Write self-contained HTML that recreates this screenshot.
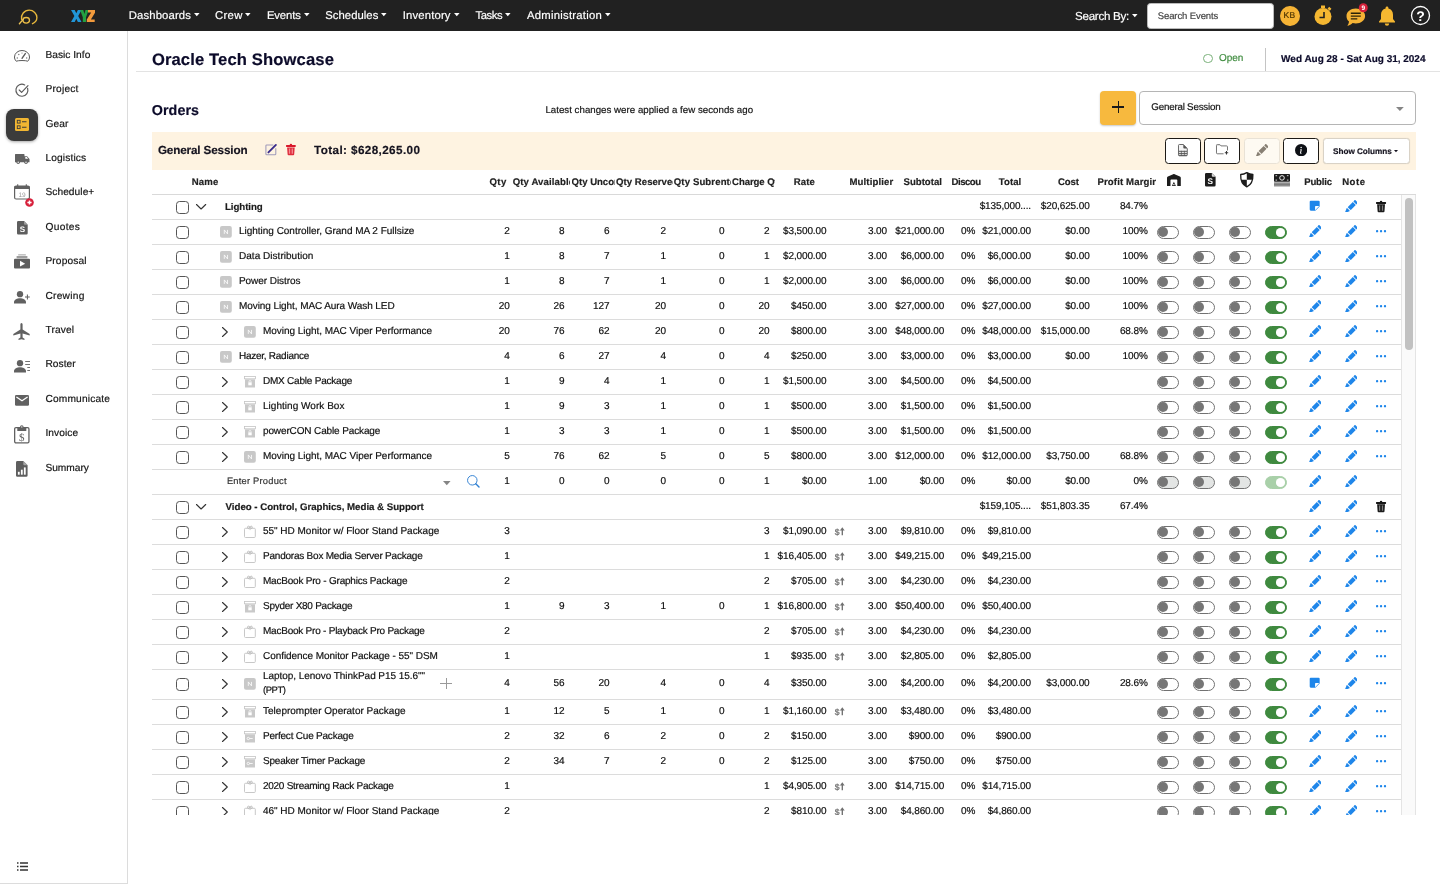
<!DOCTYPE html>
<html><head><meta charset="utf-8"><title>Orders</title>
<style>
*{box-sizing:border-box;margin:0;padding:0}
html,body{width:1440px;height:885px;overflow:hidden;background:#fff}
body{font-family:"Liberation Sans",sans-serif;font-size:10px;color:#111;position:relative}
.abs{position:absolute}
.t{position:absolute;white-space:nowrap;line-height:1;-webkit-text-stroke:.18px currentColor}
.r{position:absolute;white-space:nowrap;line-height:1;text-align:right;-webkit-text-stroke:.18px currentColor}
.b{font-weight:700}
#nav{position:absolute;left:0;top:0;width:1440px;height:31px;background:#212121}
#nav .m{position:absolute;top:9px;color:#fff;font-size:11.4px;line-height:1;white-space:nowrap}
.car{position:absolute;width:0;height:0;border-left:2.800px solid transparent;border-right:2.800px solid transparent;border-top:3px solid #fff}
#side{position:absolute;left:0;top:31px;width:128px;height:853px;background:#fff;border-right:1px solid #dcdcdc;border-bottom:1px solid #dcdcdc}
#side .l{position:absolute;left:45px;font-size:10.4px;color:#111;line-height:1;white-space:nowrap}
.row{position:absolute;left:152px;width:1249px;border-bottom:1px solid #dddddd;background:#fff}
.cb{position:absolute;width:13px;height:13px;border:1px solid #555;border-radius:3.500px;background:#fff}
.n{position:absolute;width:11.800px;height:11.800px;border-radius:2px;background:#c8c8c8;color:#fff;font-size:7px;line-height:12px;text-align:center;font-weight:400}
.tg{position:absolute;width:22.200px;height:13px;border-radius:6.500px;border:1.150px solid #727272;background:#fff}
.tg i{position:absolute;left:-.1px;top:.45px;width:9.800px;height:9.800px;border-radius:50%;background:#767676}
.tg.on{background:#3f8a3f;border-color:#3f8a3f}
.tg.on i{left:9.700px;top:.9px;background:#fff;width:9.900px;height:8.900px}
.tg.dis{background:#e3e5e4}
.tg.on.dis{background:#a9d0a9;border-color:#a9d0a9}
.hd{position:absolute;top:177px;font-weight:700;font-size:9.6px;color:#222;white-space:nowrap;line-height:1;overflow:hidden}
.btn{position:absolute;top:138px;height:26px;border-radius:3.500px;background:#fff;border:1.300px solid #1d1a16}
</style></head><body><div id="root" style="position:absolute;left:0;top:0;width:1440px;height:885px;overflow:hidden;will-change:transform;text-rendering:geometricPrecision">

<div id="nav">
<div class="t" style="left:128.8px;top:11px;font-size:11.3px;color:#fff;letter-spacing:0.13px;">Dashboards</div>
<svg style="position:absolute;left:194.2px;top:13px;overflow:visible" width="5.6" height="3.2" viewBox="0 0 5.6 3.2"><polygon points="0,0 5.600,0 2.800,3.200" fill="#fff"/></svg>
<div class="t" style="left:215.1px;top:11px;font-size:11.3px;color:#fff;letter-spacing:0.28px;">Crew</div>
<svg style="position:absolute;left:245.3px;top:13px;overflow:visible" width="5.6" height="3.2" viewBox="0 0 5.6 3.2"><polygon points="0,0 5.600,0 2.800,3.200" fill="#fff"/></svg>
<div class="t" style="left:266.9px;top:11px;font-size:11.3px;color:#fff;letter-spacing:-0.11px;">Events</div>
<svg style="position:absolute;left:304.2px;top:13px;overflow:visible" width="5.6" height="3.2" viewBox="0 0 5.6 3.2"><polygon points="0,0 5.600,0 2.800,3.200" fill="#fff"/></svg>
<div class="t" style="left:325.3px;top:11px;font-size:11.3px;color:#fff;letter-spacing:0.03px;">Schedules</div>
<svg style="position:absolute;left:381.2px;top:13px;overflow:visible" width="5.6" height="3.2" viewBox="0 0 5.6 3.2"><polygon points="0,0 5.600,0 2.800,3.200" fill="#fff"/></svg>
<div class="t" style="left:402.8px;top:11px;font-size:11.3px;color:#fff;letter-spacing:0.15px;">Inventory</div>
<svg style="position:absolute;left:454.3px;top:13px;overflow:visible" width="5.6" height="3.2" viewBox="0 0 5.6 3.2"><polygon points="0,0 5.600,0 2.800,3.200" fill="#fff"/></svg>
<div class="t" style="left:475.4px;top:11px;font-size:11.3px;color:#fff;letter-spacing:-0.38px;">Tasks</div>
<svg style="position:absolute;left:505.2px;top:13px;overflow:visible" width="5.6" height="3.2" viewBox="0 0 5.6 3.2"><polygon points="0,0 5.600,0 2.800,3.200" fill="#fff"/></svg>
<div class="t" style="left:526.9px;top:11px;font-size:11.3px;color:#fff;letter-spacing:0.26px;">Administration</div>
<svg style="position:absolute;left:605.4px;top:13px;overflow:visible" width="5.6" height="3.2" viewBox="0 0 5.6 3.2"><polygon points="0,0 5.600,0 2.800,3.200" fill="#fff"/></svg>
<div class="t" style="left:1075.1px;top:11px;font-size:11.6px;color:#fff;letter-spacing:-0.3px;">Search By:</div>
<svg style="position:absolute;left:1132px;top:14.2px;overflow:visible" width="5.6" height="3.2" viewBox="0 0 5.6 3.2"><polygon points="0,0 5.600,0 2.800,3.200" fill="#fff"/></svg>
<div class="abs" style="left:1147px;top:3px;width:127px;height:25.500px;background:#fff;border-radius:3.500px;border:1px solid #bbb"></div>
<div class="t" style="left:1157.8px;top:12px;font-size:9.5px;color:#444;letter-spacing:-0.11px;">Search Events</div>
<div class="abs" style="left:1280px;top:6px;width:19.500px;height:20px;border-radius:50%;background:#f5b335"></div>
<div class="t" style="left:1283.4px;top:11px;font-size:8.5px;color:#4a3200;letter-spacing:0.53px;">KB</div>
<svg style="position:absolute;left:1313px;top:4px" width="20" height="22" viewBox="0 0 20 22"><circle cx="10" cy="12.5" r="8.5" fill="#f5b731"/><rect x="8" y="1.5" width="4" height="2.5" fill="#f5b731"/><rect x="15" y="3.5" width="3" height="2.5" transform="rotate(40 16.5 4.7)" fill="#f5b731"/><path d="M11 8v5.5H6.5" stroke="#212121" stroke-width="1.6" fill="none"/></svg>
<svg style="position:absolute;left:1344px;top:2px;overflow:visible" width="26" height="26" viewBox="1344 2 26 26"><path d="M1355.800 8.400c5.200 0 9.300 3.300 9.300 7.500s-4.100 7.500-9.300 7.500c-1.100 0-2.200-.15-3.200-.45-1.300 1.500-3.200 2.500-5.300 2.750 1-1.200 1.600-2.600 1.700-4.100-1.600-1.400-2.500-3.400-2.500-5.700 0-4.200 4.100-7.500 9.300-7.500z" fill="#f5b335"/><path d="M1350.800 13.300h10M1350.800 16.100h10M1350.800 18.900h6.500" stroke="#2a2208" stroke-width="1.400"/><circle cx="1363.300" cy="7.800" r="4.500" fill="#d7203b"/><text x="1363.300" y="10.200" font-size="6.500" fill="#fff" text-anchor="middle" font-family="Liberation Sans" font-weight="700">9</text></svg>
<svg style="position:absolute;left:1377px;top:5px" width="20" height="22" viewBox="0 0 20 22"><path d="M10 1.500c.8 0 1.400.6 1.400 1.400v.5c3 .7 4.600 3.200 4.600 6.300v4.300l2 2.500v1H2v-1l2-2.500V9.700c0-3.100 1.600-5.600 4.600-6.300v-.5c0-.8.600-1.400 1.400-1.400z" fill="#f5b731"/><path d="M7.800 18.500a2.200 2.200 0 0 0 4.400 0z" fill="#f5b731"/></svg>
<svg style="position:absolute;left:1410px;top:5px" width="21" height="21" viewBox="0 0 21 21"><circle cx="10.500" cy="10.500" r="9" fill="none" stroke="#fff" stroke-width="1.300"/><text x="10.500" y="15.500" font-size="14" fill="#fff" text-anchor="middle" font-family="Liberation Sans" font-weight="700">?</text></svg>
<svg style="position:absolute;left:17px;top:8px;overflow:visible" width="22" height="17" viewBox="17 8 22 17"><path d="M21.600 19.400A7.700 7.700 0 0 1 29.200 10.200C33.600 10.200 36.900 13.600 36.900 17.600C36.900 20.300 35 22.600 32.500 23.700" fill="none" stroke="#e7b83c" stroke-width="1.350" stroke-linecap="round"/><ellipse cx="26.200" cy="20.300" rx="3.300" ry="2.800" fill="none" stroke="#e9bb44" stroke-width="1.300"/><path d="M23 19.600L19.400 23.700" stroke="#eec457" stroke-width="1.400" stroke-linecap="round"/></svg>
<svg style="position:absolute;left:70.900px;top:10px" width="24.400" height="12" viewBox="0 0 24.400 12"><polygon points="0,0 3.700,0 5.300,3.300 6.900,0 10.500,0 7.200,6 10.500,12 6.900,12 5.300,8.700 3.700,12 0,12 3.400,6" fill="#2196d8"/><polygon points="9.100,0 12.300,0 13.400,3.900 14.500,0 17.700,0 15,7.200 15,12 11.800,12 11.800,7.200" fill="#22a041"/><polygon points="17,0 24.300,0 24.300,2.400 19.900,9.400 23.700,9.400 23.700,12 15.800,12 15.800,9.600 20.200,2.600 17,2.600" fill="#f29a3c"/></svg>
</div>
<div id="side"></div>
<div class="t" style="left:45.4px;top:51px;font-size:10.2px;color:#141414;letter-spacing:0.02px;">Basic Info</div>
<div class="t" style="left:45.4px;top:85px;font-size:10.2px;color:#141414;letter-spacing:0.22px;">Project</div>
<div class="t" style="left:45.4px;top:120px;font-size:10.2px;color:#141414;letter-spacing:0.08px;">Gear</div>
<div class="t" style="left:45.4px;top:154px;font-size:10.2px;color:#141414;letter-spacing:0.14px;">Logistics</div>
<div class="t" style="left:45.4px;top:188px;font-size:10.2px;color:#141414;letter-spacing:0.06px;">Schedule+</div>
<div class="t" style="left:45.4px;top:223px;font-size:10.2px;color:#141414;letter-spacing:0.34px;">Quotes</div>
<div class="t" style="left:45.4px;top:257px;font-size:10.2px;color:#141414;letter-spacing:0.14px;">Proposal</div>
<div class="t" style="left:45.4px;top:292px;font-size:10.2px;color:#141414;letter-spacing:0.26px;">Crewing</div>
<div class="t" style="left:45.4px;top:326px;font-size:10.2px;color:#141414;letter-spacing:0.14px;">Travel</div>
<div class="t" style="left:45.4px;top:360px;font-size:10.2px;color:#141414;letter-spacing:0.06px;">Roster</div>
<div class="t" style="left:45.4px;top:395px;font-size:10.2px;color:#141414;letter-spacing:0.17px;">Communicate</div>
<div class="t" style="left:45.4px;top:429px;font-size:10.2px;color:#141414;letter-spacing:0.07px;">Invoice</div>
<div class="t" style="left:45.4px;top:464px;font-size:10.2px;color:#141414;letter-spacing:-0.02px;">Summary</div>
<div class="abs" style="left:6px;top:109px;width:32px;height:32px;border-radius:8px;background:#3b3b3b;box-shadow:0 1px 3px rgba(0,0,0,.35)"></div>
<svg style="position:absolute;left:15px;top:118px" width="14" height="13" viewBox="0 0 14 13"><rect x="0" y="0" width="14" height="13" rx="1.500" fill="#f2b632"/><rect x="2.300" y="2.300" width="2.800" height="2.800" fill="none" stroke="#3b3b3b" stroke-width=".9"/><rect x="2.300" y="7.800" width="2.800" height="2.800" fill="none" stroke="#3b3b3b" stroke-width=".9"/><path d="M7 3.700h4.500M7 9.200h4.500" stroke="#3b3b3b" stroke-width="1.100"/></svg>
<svg style="position:absolute;left:14px;top:50px;overflow:visible" width="16" height="12" viewBox="0 0 16 12"><path d="M2.200 11.200C.9 9.900.5 8.300.5 7A7.500 6.500 0 0 1 15.500 7c0 1.300-.4 2.900-1.700 4.200C11.500 10.300 4.500 10.300 2.200 11.200z" fill="none" stroke="#5a5a5a" stroke-width="1"/><path d="M8 8.300 11.300 3.600" stroke="#5a5a5a" stroke-width="1.400" stroke-linecap="round"/><circle cx="3.300" cy="8" r=".7" fill="#777"/><circle cx="4.800" cy="4.500" r=".7" fill="#777"/><circle cx="8" cy="3" r=".6" fill="#777"/><circle cx="12.700" cy="8" r=".7" fill="#777"/></svg>
<svg style="position:absolute;left:15px;top:83px;overflow:visible" width="14" height="14" viewBox="0 0 14 14"><path d="M12.600 5.300A6 6 0 1 1 9.700 1.900" fill="none" stroke="#5a5a5a" stroke-width="1.150" stroke-linecap="round"/><path d="M4.200 7l2.400 2.400L13 2.600" fill="none" stroke="#5a5a5a" stroke-width="1.150" stroke-linecap="round" stroke-linejoin="round"/></svg>
<svg style="position:absolute;left:15px;top:154px;overflow:visible" width="14.5" height="10" viewBox="0 0 14.5 10"><path d="M0 .6a.6.600 0 0 1 .6-.6h8.300a.6.600 0 0 1 .6.600V2.200h2.600l2.400 2.800v3.300H0z" fill="#616161"/><path d="M10.300 3.100h1.500l1.400 1.700h-2.900z" fill="#fff"/><circle cx="3.200" cy="8.300" r="1.750" fill="#616161"/><circle cx="3.200" cy="8.300" r=".7" fill="#fff"/><circle cx="11" cy="8.300" r="1.750" fill="#616161"/><circle cx="11" cy="8.300" r=".7" fill="#fff"/></svg>
<svg style="position:absolute;left:14px;top:184px;overflow:visible" width="16" height="16" viewBox="0 0 16 16"><rect x=".6" y="2" width="14.800" height="13" rx="1.500" fill="#fff" stroke="#616161" stroke-width="1.200"/><rect x=".6" y="2" width="14.800" height="3" fill="#616161"/><path d="M3.700 .3v2M12.300 .3v2" stroke="#616161" stroke-width="1.100"/><text x="8" y="12.500" font-size="6.500" fill="#9a9a9a" text-anchor="middle" font-family="Liberation Sans">19</text></svg>
<svg style="position:absolute;left:24.5px;top:197.5px;overflow:visible" width="9" height="9" viewBox="0 0 9 9"><circle cx="4.500" cy="4.500" r="4.300" fill="#d7203b"/><path d="M4.500 2.400v4.200M2.400 4.500h4.200" stroke="#fff" stroke-width="1.500"/></svg>
<svg style="position:absolute;left:16.5px;top:221px;overflow:visible" width="11" height="13.5" viewBox="0 0 11 13.5"><path d="M1.300 0h5.700l3.700 3.700v8.500a1.300 1.300 0 0 1-1.300 1.300h-8.100A1.300 1.300 0 0 1 0 12.200V1.300A1.300 1.300 0 0 1 1.300 0z" fill="#5e5e5e"/><path d="M7 0v2.700a1 1 0 0 0 1 1h2.700z" fill="#9b9b9b"/><text x="5.300" y="11.300" font-size="8" font-weight="700" fill="#fff" text-anchor="middle" font-family="Liberation Sans">S</text></svg>
<svg style="position:absolute;left:14px;top:254px;overflow:visible" width="16" height="15" viewBox="0 0 16 15"><rect x="4.200" y="0" width="7.600" height="1.600" fill="#c4c4c4"/><rect x="2.600" y="2" width="10.800" height="2.300" fill="#9d9d9d"/><rect x="0" y="4.800" width="16" height="9.800" rx="1" fill="#5e5e5e"/><path d="M6 6.800l5.200 2.900L6 12.600z" fill="#fff"/></svg>
<svg style="position:absolute;left:14px;top:290.5px;overflow:visible" width="16" height="12.5" viewBox="0 0 16 12.5"><circle cx="6" cy="3.200" r="3.150" fill="#616161"/><path d="M0 12.500v-1.300c0-2.700 3.300-3.900 6-3.900s6 1.200 6 3.900v1.300z" fill="#616161"/><path d="M13.400 3.600v4.800M11 6h4.800" stroke="#616161" stroke-width="1.050"/></svg>
<svg style="position:absolute;left:13px;top:322.5px;overflow:visible" width="17" height="17.5" viewBox="0 0 17 17.5"><path d="M8.500 0c.7 0 1.100.8 1.100 1.600v4.900l7.100 4.400v1.700l-7.100-2.200v4l1.900 1.400v1.300l-3-.9-3 .9v-1.300l1.900-1.400v-4L.3 12.600v-1.700l7.100-4.400V1.600C7.400.8 7.800 0 8.500 0z" fill="#616161"/></svg>
<svg style="position:absolute;left:14px;top:359.8px;overflow:visible" width="16" height="12.5" viewBox="0 0 16 12.5"><circle cx="6" cy="3.200" r="3.150" fill="#616161"/><path d="M0 12.500v-1.300c0-2.700 3.300-3.900 6-3.900s6 1.200 6 3.900v1.300z" fill="#616161"/><path d="M11.200 1.500H16M11.200 4.500H16M13.300 7.500H16M13.300 10.500H16" stroke="#616161" stroke-width=".9"/></svg>
<svg style="position:absolute;left:15px;top:394.5px;overflow:visible" width="14" height="10.8" viewBox="0 0 14 10.8"><rect x="0" y="0" width="14" height="10.800" rx="1.300" fill="#616161"/><path d="M1.800 2.300L7 5.800l5.200-3.500" fill="none" stroke="#fff" stroke-width="1.300" stroke-linecap="round" stroke-linejoin="round"/></svg>
<svg style="position:absolute;left:14px;top:425.3px;overflow:visible" width="15.6" height="18.5" viewBox="0 0 15.6 18.5"><rect x=".65" y="2.600" width="14.300" height="15.200" rx="1.300" fill="#fff" stroke="#616161" stroke-width="1.300"/><path d="M3.300 2h2.700a1.800 1.800 0 0 1 3.600 0h2.700v3.900H3.300z" fill="#616161"/><circle cx="7.800" cy="1.900" r=".65" fill="#fff"/><text x="7.800" y="15.900" font-size="11" fill="#616161" text-anchor="middle" font-family="Liberation Serif">$</text></svg>
<svg style="position:absolute;left:16.3px;top:461px;overflow:visible" width="11.6" height="15.8" viewBox="0 0 11.6 15.8"><path d="M1.400 0h5.900l4.300 4.300v10.100a1.400 1.400 0 0 1-1.400 1.400H1.400A1.400 1.400 0 0 1 0 14.400V1.400A1.400 1.400 0 0 1 1.400 0z" fill="#5e5e5e"/><path d="M7.300 0v3.200a1.100 1.100 0 0 0 1.100 1.100h3.200z" fill="#a5a5a5"/><rect x="1.900" y="10.800" width="1.800" height="2.900" fill="#fff"/><rect x="4.900" y="8.700" width="1.800" height="5" fill="#fff"/><rect x="7.900" y="6.400" width="1.800" height="7.300" fill="#fff"/></svg>
<svg style="position:absolute;left:17px;top:862px" width="11" height="9" viewBox="0 0 11 9"><path d="M0 1h1.500M3 1h8M0 4.500h1.500M3 4.500h8M0 8h1.500M3 8h8" stroke="#333" stroke-width="1.400"/></svg>
<div class="t" style="left:151.9px;top:52px;font-size:16.6px;color:#0c0b2a;letter-spacing:0.13px;font-weight:700;">Oracle Tech Showcase</div>
<div class="abs" style="left:136px;top:71px;width:1304px;height:1px;background:#e3e3e3"></div>
<div class="abs" style="left:1203px;top:53.500px;width:9.500px;height:9.500px;border-radius:50%;border:.9px solid #79b079"></div>
<div class="t" style="left:1218.9px;top:54px;font-size:10px;color:#3f8c3f;letter-spacing:-0.04px;">Open</div>
<div class="abs" style="left:1264.500px;top:48px;width:1px;height:23px;background:#c4c4c4"></div>
<div class="t" style="left:1281.1px;top:55px;font-size:10px;color:#0c0b2a;letter-spacing:-0.01px;font-weight:700;">Wed Aug 28 - Sat Aug 31, 2024</div>
<div class="t" style="left:151.7px;top:104px;font-size:14.3px;color:#0c0b2a;letter-spacing:0.1px;font-weight:700;">Orders</div>
<div class="t" style="left:545.4px;top:106px;font-size:9.7px;color:#141414;letter-spacing:0.02px;">Latest changes were applied a few seconds ago</div>
<div class="abs" style="left:1100px;top:91px;width:36px;height:34px;border-radius:4px;background:#f7b93e;box-shadow:0 1px 2px rgba(0,0,0,.22)"></div>
<div class="abs" style="left:1112.400px;top:106.200px;width:11.800px;height:1.500px;background:#1a1a1a"></div><div class="abs" style="left:1117.550px;top:101px;width:1.500px;height:11.900px;background:#1a1a1a"></div>
<div class="abs" style="left:1139px;top:91.400px;width:277px;height:33.300px;border-radius:4px;background:#fff;border:1px solid #b5b5b5"></div>
<div class="t" style="left:1151.3px;top:103px;font-size:9.8px;color:#141414;letter-spacing:-0.22px;">General Session</div>
<svg style="position:absolute;left:1396.3px;top:107.3px;overflow:visible" width="7.8" height="3.9" viewBox="0 0 7.8 3.9"><polygon points="0,0 7.800,0 3.900,3.900" fill="#858585"/></svg>
<div class="abs" style="left:152px;top:132px;width:1264px;height:38px;background:#fef3e1"></div>
<div class="t" style="left:157.9px;top:145px;font-size:11.7px;color:#15131f;letter-spacing:-0.14px;font-weight:700;">General Session</div>
<svg style="position:absolute;left:265px;top:144px;overflow:visible" width="12" height="12" viewBox="0 0 12 12"><path d="M8.300 .9H1.700a.8.800 0 0 0-.8.800v8.300a.8.800 0 0 0 .8.800h8.300a.8.800 0 0 0 .8-.8V4.200" fill="none" stroke="#9f9aba" stroke-width="1.050"/><path d="M3.400 8.400L10.900 .9" stroke="#3b2d8c" stroke-width="1.900" stroke-linecap="round"/></svg>
<svg style="position:absolute;left:286px;top:144px;overflow:visible" width="9.8" height="11.3" viewBox="0 0 9.8 11.3"><path d="M3.700 .9a1.200 1.200 0 0 1 2.400 0z" fill="#d9182b"/><rect x="0" y=".9" width="9.800" height="2" rx=".6" fill="#d9182b"/><path d="M1.100 3.400h7.600l-.5 6.900a1 1 0 0 1-1 1H2.600a1 1 0 0 1-1-1z" fill="#de2c3c"/><path d="M3.500 4.600v5.200M6.300 4.600v5.200" stroke="#f58a90" stroke-width="1.300"/></svg>
<div class="t" style="left:314.1px;top:145px;font-size:11.7px;color:#15131f;letter-spacing:0.39px;font-weight:700;">Total: $628,265.00</div>
<div class="btn" style="left:1165px;width:36px"></div>
<div class="btn" style="left:1204px;width:36px"></div>
<div class="btn" style="left:1244px;width:35.5px;border-color:#e9e2d6;background:#fefaf2"></div>
<div class="btn" style="left:1283px;width:36px"></div>
<div class="btn" style="left:1322.500px;width:87.200px;border-color:#d9d2c6;box-shadow:0 0 1px rgba(0,0,0,.15)"></div>
<div class="t" style="left:1333.1px;top:148px;font-size:8.2px;color:#15131f;letter-spacing:-0.04px;font-weight:700;">Show Columns</div>
<svg style="position:absolute;left:1393.9px;top:150px;overflow:visible" width="4" height="2.2" viewBox="0 0 4 2.2"><polygon points="0,0 4,0 2,2.200" fill="#15131f"/></svg>
<svg style="position:absolute;left:1178px;top:143.8px;overflow:visible" width="9.8" height="12.3" viewBox="0 0 9.8 12.3"><path d="M1.400 .5h3.900l4 4v6.400a.9.900 0 0 1-.9.900h-7a.9.900 0 0 1-.9-.9v-9.500a.9.900 0 0 1 .9-.9z" fill="#f4f4f4" stroke="#5a5a5a" stroke-width=".9"/><path d="M5.300 .5v3.100a.9.900 0 0 0 .9.900h3.100z" fill="#555"/><path d="M.8 7.300h8.200M.8 9.400h8.200M.8 11.300h8.200" stroke="#555" stroke-width="1"/><path d="M3.400 6.800v4.900M6.400 6.800v4.900" stroke="#555" stroke-width=".7"/></svg>
<svg style="position:absolute;left:1216px;top:144.3px;overflow:visible" width="12.2" height="10.5" viewBox="0 0 12.2 10.5"><path d="M7.600 9.800H1.400a.9.900 0 0 1-.9-.9V1.400a.9.900 0 0 1 .9-.9h2.400l1.200 1.400h5.600a.9.900 0 0 1 .9.900v3.700" fill="none" stroke="#666" stroke-width=".9"/><path d="M.8 .9h3l1 1.100" fill="none" stroke="#999" stroke-width=".8"/><path d="M10.500 7.100v3.400M8.800 8.800h3.400" stroke="#333" stroke-width="1.050"/></svg>
<svg style="position:absolute;left:1255.5px;top:143.8px" width="12.5" height="12.5" viewBox="0 0 16 16" fill="#877f73" ><path d="M12.854.146a.5.5 0 0 0-.707 0L10.5 1.793 14.207 5.5l1.647-1.646a.5.5 0 0 0 0-.708l-3-3zm.646 6.061L9.793 2.5 3.293 9H3.5a.5.5 0 0 1 .5.5v.5h.5a.5.5 0 0 1 .5.5v.5h.5a.5.5 0 0 1 .5.5v.5h.5a.5.5 0 0 1 .5.5v.207l6.5-6.5zm-7.468 7.468A.5.5 0 0 1 6 13.5V13h-.5a.5.5 0 0 1-.5-.5V12h-.5a.5.5 0 0 1-.5-.5V11h-.5a.5.5 0 0 1-.5-.5V10h-.5a.499.499 0 0 1-.175-.032l-.179.178a.5.5 0 0 0-.11.168l-2 5a.5.5 0 0 0 .65.65l5-2a.5.5 0 0 0 .168-.11l.178-.178z"/></svg>
<svg style="position:absolute;left:1295px;top:143.8px" width="12.3" height="12.3" viewBox="0 0 16 16" fill="#0e1116" ><path d="M8 16A8 8 0 1 0 8 0a8 8 0 0 0 0 16zm.93-9.412-1 4.705c-.07.34.029.533.304.533.194 0 .487-.07.686-.246l-.088.416c-.287.346-.92.598-1.465.598-.703 0-1.002-.422-.808-1.319l.738-3.468c.064-.293.006-.399-.287-.47l-.451-.081.082-.381 2.29-.287zM8 5.5a1 1 0 1 1 0-2 1 1 0 0 1 0 2z"/></svg>
<div class="t" style="left:191.8px;top:178px;font-size:9.6px;font-weight:700;color:#222;letter-spacing:0.11px;">Name</div>
<div class="t" style="left:489.4px;top:178px;font-size:9.6px;font-weight:700;color:#222;letter-spacing:0.5px;">Qty</div>
<div class="t" style="left:512.7px;top:178px;font-size:9.6px;font-weight:700;color:#222;letter-spacing:0.11px;width:57.3px;overflow:hidden;">Qty Available</div>
<div class="t" style="left:571.6px;top:178px;font-size:9.6px;font-weight:700;color:#222;letter-spacing:-0.03px;width:43px;overflow:hidden;">Qty Uncommitted</div>
<div class="t" style="left:616.1px;top:178px;font-size:9.6px;font-weight:700;color:#222;letter-spacing:0.02px;width:57.1px;overflow:hidden;">Qty Reserved</div>
<div class="t" style="left:673.8px;top:178px;font-size:9.6px;font-weight:700;color:#222;letter-spacing:0.11px;width:57.2px;overflow:hidden;">Qty Subrented</div>
<div class="t" style="left:732.1px;top:178px;font-size:9.6px;font-weight:700;color:#222;letter-spacing:-0.09px;width:43.1px;overflow:hidden;">Charge Qty</div>
<div class="t" style="left:793.8px;top:178px;font-size:9.6px;font-weight:700;color:#222;letter-spacing:0.07px;">Rate</div>
<div class="t" style="left:849.4px;top:178px;font-size:9.6px;font-weight:700;color:#222;letter-spacing:0.14px;">Multiplier</div>
<div class="t" style="left:903.6px;top:178px;font-size:9.6px;font-weight:700;color:#222;letter-spacing:-0.01px;">Subtotal</div>
<div class="t" style="left:951.6px;top:178px;font-size:9.6px;font-weight:700;color:#222;letter-spacing:-0.5px;width:29.2px;overflow:hidden;">Discount</div>
<div class="t" style="left:998.8px;top:178px;font-size:9.6px;font-weight:700;color:#222;letter-spacing:0.06px;">Total</div>
<div class="t" style="left:1058px;top:178px;font-size:9.6px;font-weight:700;color:#222;letter-spacing:-0.13px;">Cost</div>
<div class="t" style="left:1097.4px;top:178px;font-size:9.6px;font-weight:700;color:#222;letter-spacing:0.14px;width:58.4px;overflow:hidden;">Profit Margin</div>
<div class="t" style="left:1304.2px;top:178px;font-size:9.6px;font-weight:700;color:#222;letter-spacing:-0.17px;">Public</div>
<div class="t" style="left:1342.2px;top:178px;font-size:9.6px;font-weight:700;color:#222;letter-spacing:0.49px;">Note</div>
<svg style="position:absolute;left:1167.2px;top:173.8px;overflow:visible" width="13.8" height="12" viewBox="0 0 13.8 12"><path d="M0 12V3.800C0 3.100.4 2.700.9 2.400L6.200.2c.5-.2.900-.2 1.400 0l5.300 2.200c.5.300.9.700.9 1.400V12h-3.500V6.200a.7.700 0 0 0-.7-.7H4.200a.7.700 0 0 0-.7.700V12z" fill="#1c1c1c"/><path d="M4.900 12l2-4.300 2 4.300z" fill="#1c1c1c"/><rect x="6.300" y="10" width="1.200" height="1.200" fill="#fff"/></svg>
<svg style="position:absolute;left:1204.8px;top:173px;overflow:visible" width="10.6" height="13.6" viewBox="0 0 10.6 13.6"><path d="M1.300 0h5.500l3.800 3.800v8.500a1.300 1.300 0 0 1-1.300 1.300h-8A1.300 1.300 0 0 1 0 12.300V1.300A1.300 1.300 0 0 1 1.300 0z" fill="#1c1c1c"/><path d="M6.800 .3v2.500a1 1 0 0 0 1 1h2.500z" fill="#fff" opacity=".85"/><text x="5.200" y="11.500" font-size="8.200" font-weight="700" fill="#fff" text-anchor="middle" font-family="Liberation Sans">S</text></svg>
<svg style="position:absolute;left:1239.5px;top:172px;overflow:visible" width="13.6" height="15.6" viewBox="0 0 13.6 15.6"><path d="M6.800 .6C8.600 1.700 10.800 2.400 12.900 2.500c.2 4.700-1 10-6.100 12.400C1.700 12.500.5 7.200.7 2.500 2.800 2.400 5 1.700 6.800.6z" fill="#fff" stroke="#1c1c1c" stroke-width="1.300" stroke-linejoin="round"/><path d="M6.800 .6C8.600 1.700 10.800 2.400 12.900 2.500c.1 1.700 0 3.500-.4 5.200H6.800z" fill="#1c1c1c"/><path d="M6.800 7.700v7.200C3.700 13.400 2 10.800 1.200 7.700z" fill="#1c1c1c"/></svg>
<svg style="position:absolute;left:1274px;top:173.8px;overflow:visible" width="16" height="12.6" viewBox="0 0 16 12.6"><rect x="0" y="0" width="16" height="7.800" rx=".8" fill="#1c1c1c"/><circle cx="8" cy="3.900" r="2.300" fill="none" stroke="#fff" stroke-width=".9"/><rect x="1.500" y="1.200" width="1.600" height="1" fill="#fff" opacity=".8"/><rect x="12.900" y="1.200" width="1.600" height="1" fill="#fff" opacity=".8"/><rect x="1.500" y="5.600" width="1.600" height="1" fill="#fff" opacity=".8"/><rect x="12.900" y="5.600" width="1.600" height="1" fill="#fff" opacity=".8"/><rect x="0" y="8.300" width="16" height="4.200" fill="#8f8f8f"/><rect x="0" y="10" width="16" height=".7" fill="#777"/></svg>
<div class="abs" style="left:152px;top:194px;width:1264px;height:1px;background:#d9d9d9"></div>
<div class="abs" style="left:0;top:195px;width:1440px;height:619.500px;overflow:hidden">
<div class="abs" style="left:1401px;top:-1px;width:15px;height:621px;background:#fafafa;border-left:1px solid #e4e4e4;border-right:1px solid #e4e4e4"></div>
<div class="abs" style="left:1405px;top:3px;width:8px;height:152px;border-radius:4px;background:#c1c1c1"></div>
<div class="abs" style="left:152px;top:24px;width:1249px;height:1px;background:#dcdcdc"></div><div class="cb" style="left:176px;top:6px"></div><svg style="position:absolute;left:196px;top:9.3px;overflow:visible" width="10.2" height="5.6" viewBox="0 0 10.2 5.6"><path d="M.5 .5l4.600 4.500L9.700 .5" fill="none" stroke="#333" stroke-width="1.100" stroke-linecap="round" stroke-linejoin="round"/></svg><div class="t" style="left:225px;top:8px;font-size:9.7px;color:#1c1c1c;letter-spacing:-0.07px;font-weight:700;">Lighting</div><div class="r" style="right:409.05px;top:7px;font-size:10px;color:#0e0e0e;letter-spacing:-.13px">$135,000....</div><div class="r" style="right:350.45px;top:7px;font-size:10px;color:#0e0e0e;letter-spacing:-.13px">$20,625.00</div><div class="r" style="right:292.35px;top:7px;font-size:10px;color:#0e0e0e;letter-spacing:-.13px">84.7%</div><svg style="position:absolute;left:1308.9px;top:5.2px" width="11.4" height="11.4" viewBox="0 0 16 16" fill="#1e86ea" ><path d="M2.5 1A1.5 1.5 0 0 0 1 2.5v11A1.5 1.5 0 0 0 2.5 15h6.086a1.5 1.5 0 0 0 1.06-.44l4.915-4.914A1.5 1.5 0 0 0 15 8.586V2.5A1.5 1.5 0 0 0 13.5 1h-11zm6 8.5a1 1 0 0 1 1-1h4.396a.25.25 0 0 1 .177.427l-5.146 5.146a.25.25 0 0 1-.427-.177V9.5z"/></svg><svg style="position:absolute;left:1344.5px;top:4.5px" width="12.8" height="12.8" viewBox="0 0 16 16" fill="#1e86ea" ><path d="M12.854.146a.5.5 0 0 0-.707 0L10.5 1.793 14.207 5.5l1.647-1.646a.5.5 0 0 0 0-.708l-3-3zm.646 6.061L9.793 2.5 3.293 9H3.5a.5.5 0 0 1 .5.5v.5h.5a.5.5 0 0 1 .5.5v.5h.5a.5.5 0 0 1 .5.5v.5h.5a.5.5 0 0 1 .5.5v.207l6.5-6.5zm-7.468 7.468A.5.5 0 0 1 6 13.5V13h-.5a.5.5 0 0 1-.5-.5V12h-.5a.5.5 0 0 1-.5-.5V11h-.5a.5.5 0 0 1-.5-.5V10h-.5a.499.499 0 0 1-.175-.032l-.179.178a.5.5 0 0 0-.11.168l-2 5a.5.5 0 0 0 .65.65l5-2a.5.5 0 0 0 .168-.11l.178-.178z"/></svg><svg style="position:absolute;left:1376px;top:5.9px;overflow:visible" width="10.1" height="11.2" viewBox="0 0 10.1 11.2"><path d="M3.800 .9a1.250 1.250 0 0 1 2.500 0z" fill="#161616"/><rect x="0" y=".9" width="10.100" height="2" rx=".6" fill="#161616"/><path d="M1.100 3.300h7.900l-.5 6.900a1 1 0 0 1-1 1H2.600a1 1 0 0 1-1-1z" fill="#1c1c1c"/><path d="M3.600 4.500v5.300M6.500 4.500v5.300" stroke="#7d7d7d" stroke-width="1.200"/></svg>
<div class="abs" style="left:152px;top:49px;width:1249px;height:1px;background:#dcdcdc"></div><div class="cb" style="left:176px;top:31px"></div><svg style="position:absolute;left:220.3px;top:31.2px" width="11.800" height="11.800" viewBox="0 0 11.800 11.800"><rect width="11.800" height="11.800" rx="2" fill="#c8c8c8"/><path d="M4.300 7.900V3.900L7.500 7.900V3.900" fill="none" stroke="#fff" stroke-width=".85" stroke-linejoin="miter" opacity=".92"/></svg><div class="t" style="left:239px;top:32px;font-size:10px;color:#0e0e0e;letter-spacing:-0.02px;">Lighting Controller, Grand MA 2 Fullsize</div><div class="r" style="right:930.35px;top:32px;font-size:10px;color:#0e0e0e;letter-spacing:-.13px">2</div><div class="r" style="right:875.65px;top:32px;font-size:10px;color:#0e0e0e;letter-spacing:-.13px">8</div><div class="r" style="right:830.65px;top:32px;font-size:10px;color:#0e0e0e;letter-spacing:-.13px">6</div><div class="r" style="right:774.05px;top:32px;font-size:10px;color:#0e0e0e;letter-spacing:-.13px">2</div><div class="r" style="right:715.65px;top:32px;font-size:10px;color:#0e0e0e;letter-spacing:-.13px">0</div><div class="r" style="right:670.65px;top:32px;font-size:10px;color:#0e0e0e;letter-spacing:-.13px">2</div><div class="r" style="right:613.65px;top:32px;font-size:10px;color:#0e0e0e;letter-spacing:-.13px">$3,500.00</div><div class="r" style="right:553.05px;top:32px;font-size:10px;color:#0e0e0e;letter-spacing:-.13px">3.00</div><div class="r" style="right:495.95px;top:32px;font-size:10px;color:#0e0e0e;letter-spacing:-.13px">$21,000.00</div><div class="r" style="right:464.75px;top:32px;font-size:10px;color:#0e0e0e;letter-spacing:-.13px">0%</div><div class="r" style="right:409.05px;top:32px;font-size:10px;color:#0e0e0e;letter-spacing:-.13px">$21,000.00</div><div class="r" style="right:350.45px;top:32px;font-size:10px;color:#0e0e0e;letter-spacing:-.13px">$0.00</div><div class="r" style="right:292.35px;top:32px;font-size:10px;color:#0e0e0e;letter-spacing:-.13px">100%</div><div class="tg" style="left:1156.8px;top:30.8px"><i></i></div><div class="tg" style="left:1192.9px;top:30.8px"><i></i></div><div class="tg" style="left:1228.9px;top:30.8px"><i></i></div><div class="tg on" style="left:1264.9px;top:30.8px"><i></i></div><svg style="position:absolute;left:1308.5px;top:29.5px" width="12.8" height="12.8" viewBox="0 0 16 16" fill="#1e86ea" ><path d="M12.854.146a.5.5 0 0 0-.707 0L10.5 1.793 14.207 5.5l1.647-1.646a.5.5 0 0 0 0-.708l-3-3zm.646 6.061L9.793 2.5 3.293 9H3.5a.5.5 0 0 1 .5.5v.5h.5a.5.5 0 0 1 .5.5v.5h.5a.5.5 0 0 1 .5.5v.5h.5a.5.5 0 0 1 .5.5v.207l6.5-6.5zm-7.468 7.468A.5.5 0 0 1 6 13.5V13h-.5a.5.5 0 0 1-.5-.5V12h-.5a.5.5 0 0 1-.5-.5V11h-.5a.5.5 0 0 1-.5-.5V10h-.5a.499.499 0 0 1-.175-.032l-.179.178a.5.5 0 0 0-.11.168l-2 5a.5.5 0 0 0 .65.65l5-2a.5.5 0 0 0 .168-.11l.178-.178z"/></svg><svg style="position:absolute;left:1344.5px;top:29.5px" width="12.8" height="12.8" viewBox="0 0 16 16" fill="#1e86ea" ><path d="M12.854.146a.5.5 0 0 0-.707 0L10.5 1.793 14.207 5.5l1.647-1.646a.5.5 0 0 0 0-.708l-3-3zm.646 6.061L9.793 2.5 3.293 9H3.5a.5.5 0 0 1 .5.5v.5h.5a.5.5 0 0 1 .5.5v.5h.5a.5.5 0 0 1 .5.5v.5h.5a.5.5 0 0 1 .5.5v.207l6.5-6.5zm-7.468 7.468A.5.5 0 0 1 6 13.5V13h-.5a.5.5 0 0 1-.5-.5V12h-.5a.5.5 0 0 1-.5-.5V11h-.5a.5.5 0 0 1-.5-.5V10h-.5a.499.499 0 0 1-.175-.032l-.179.178a.5.5 0 0 0-.11.168l-2 5a.5.5 0 0 0 .65.65l5-2a.5.5 0 0 0 .168-.11l.178-.178z"/></svg><svg style="position:absolute;left:1376px;top:34.9px;overflow:visible" width="10.1" height="2.3" viewBox="0 0 10.1 2.3"><rect x="0" y="0" width="2.200" height="2.300" rx=".9" fill="#1e86ea"/><rect x="3.950" y="0" width="2.200" height="2.300" rx=".9" fill="#1e86ea"/><rect x="7.900" y="0" width="2.200" height="2.300" rx=".9" fill="#1e86ea"/></svg>
<div class="abs" style="left:152px;top:74px;width:1249px;height:1px;background:#dcdcdc"></div><div class="cb" style="left:176px;top:56px"></div><svg style="position:absolute;left:220.3px;top:56.2px" width="11.800" height="11.800" viewBox="0 0 11.800 11.800"><rect width="11.800" height="11.800" rx="2" fill="#c8c8c8"/><path d="M4.300 7.900V3.900L7.500 7.900V3.900" fill="none" stroke="#fff" stroke-width=".85" stroke-linejoin="miter" opacity=".92"/></svg><div class="t" style="left:239px;top:57px;font-size:10px;color:#0e0e0e;letter-spacing:0.03px;">Data Distribution</div><div class="r" style="right:930.35px;top:57px;font-size:10px;color:#0e0e0e;letter-spacing:-.13px">1</div><div class="r" style="right:875.65px;top:57px;font-size:10px;color:#0e0e0e;letter-spacing:-.13px">8</div><div class="r" style="right:830.65px;top:57px;font-size:10px;color:#0e0e0e;letter-spacing:-.13px">7</div><div class="r" style="right:774.05px;top:57px;font-size:10px;color:#0e0e0e;letter-spacing:-.13px">1</div><div class="r" style="right:715.65px;top:57px;font-size:10px;color:#0e0e0e;letter-spacing:-.13px">0</div><div class="r" style="right:670.65px;top:57px;font-size:10px;color:#0e0e0e;letter-spacing:-.13px">1</div><div class="r" style="right:613.65px;top:57px;font-size:10px;color:#0e0e0e;letter-spacing:-.13px">$2,000.00</div><div class="r" style="right:553.05px;top:57px;font-size:10px;color:#0e0e0e;letter-spacing:-.13px">3.00</div><div class="r" style="right:495.95px;top:57px;font-size:10px;color:#0e0e0e;letter-spacing:-.13px">$6,000.00</div><div class="r" style="right:464.75px;top:57px;font-size:10px;color:#0e0e0e;letter-spacing:-.13px">0%</div><div class="r" style="right:409.05px;top:57px;font-size:10px;color:#0e0e0e;letter-spacing:-.13px">$6,000.00</div><div class="r" style="right:350.45px;top:57px;font-size:10px;color:#0e0e0e;letter-spacing:-.13px">$0.00</div><div class="r" style="right:292.35px;top:57px;font-size:10px;color:#0e0e0e;letter-spacing:-.13px">100%</div><div class="tg" style="left:1156.8px;top:55.8px"><i></i></div><div class="tg" style="left:1192.9px;top:55.8px"><i></i></div><div class="tg" style="left:1228.9px;top:55.8px"><i></i></div><div class="tg on" style="left:1264.9px;top:55.8px"><i></i></div><svg style="position:absolute;left:1308.5px;top:54.5px" width="12.8" height="12.8" viewBox="0 0 16 16" fill="#1e86ea" ><path d="M12.854.146a.5.5 0 0 0-.707 0L10.5 1.793 14.207 5.5l1.647-1.646a.5.5 0 0 0 0-.708l-3-3zm.646 6.061L9.793 2.5 3.293 9H3.5a.5.5 0 0 1 .5.5v.5h.5a.5.5 0 0 1 .5.5v.5h.5a.5.5 0 0 1 .5.5v.5h.5a.5.5 0 0 1 .5.5v.207l6.5-6.5zm-7.468 7.468A.5.5 0 0 1 6 13.5V13h-.5a.5.5 0 0 1-.5-.5V12h-.5a.5.5 0 0 1-.5-.5V11h-.5a.5.5 0 0 1-.5-.5V10h-.5a.499.499 0 0 1-.175-.032l-.179.178a.5.5 0 0 0-.11.168l-2 5a.5.5 0 0 0 .65.65l5-2a.5.5 0 0 0 .168-.11l.178-.178z"/></svg><svg style="position:absolute;left:1344.5px;top:54.5px" width="12.8" height="12.8" viewBox="0 0 16 16" fill="#1e86ea" ><path d="M12.854.146a.5.5 0 0 0-.707 0L10.5 1.793 14.207 5.5l1.647-1.646a.5.5 0 0 0 0-.708l-3-3zm.646 6.061L9.793 2.5 3.293 9H3.5a.5.5 0 0 1 .5.5v.5h.5a.5.5 0 0 1 .5.5v.5h.5a.5.5 0 0 1 .5.5v.5h.5a.5.5 0 0 1 .5.5v.207l6.5-6.5zm-7.468 7.468A.5.5 0 0 1 6 13.5V13h-.5a.5.5 0 0 1-.5-.5V12h-.5a.5.5 0 0 1-.5-.5V11h-.5a.5.5 0 0 1-.5-.5V10h-.5a.499.499 0 0 1-.175-.032l-.179.178a.5.5 0 0 0-.11.168l-2 5a.5.5 0 0 0 .65.65l5-2a.5.5 0 0 0 .168-.11l.178-.178z"/></svg><svg style="position:absolute;left:1376px;top:59.9px;overflow:visible" width="10.1" height="2.3" viewBox="0 0 10.1 2.3"><rect x="0" y="0" width="2.200" height="2.300" rx=".9" fill="#1e86ea"/><rect x="3.950" y="0" width="2.200" height="2.300" rx=".9" fill="#1e86ea"/><rect x="7.900" y="0" width="2.200" height="2.300" rx=".9" fill="#1e86ea"/></svg>
<div class="abs" style="left:152px;top:99px;width:1249px;height:1px;background:#dcdcdc"></div><div class="cb" style="left:176px;top:81px"></div><svg style="position:absolute;left:220.3px;top:81.2px" width="11.800" height="11.800" viewBox="0 0 11.800 11.800"><rect width="11.800" height="11.800" rx="2" fill="#c8c8c8"/><path d="M4.300 7.900V3.900L7.500 7.900V3.900" fill="none" stroke="#fff" stroke-width=".85" stroke-linejoin="miter" opacity=".92"/></svg><div class="t" style="left:239px;top:82px;font-size:10px;color:#0e0e0e;letter-spacing:-0.06px;">Power Distros</div><div class="r" style="right:930.35px;top:82px;font-size:10px;color:#0e0e0e;letter-spacing:-.13px">1</div><div class="r" style="right:875.65px;top:82px;font-size:10px;color:#0e0e0e;letter-spacing:-.13px">8</div><div class="r" style="right:830.65px;top:82px;font-size:10px;color:#0e0e0e;letter-spacing:-.13px">7</div><div class="r" style="right:774.05px;top:82px;font-size:10px;color:#0e0e0e;letter-spacing:-.13px">1</div><div class="r" style="right:715.65px;top:82px;font-size:10px;color:#0e0e0e;letter-spacing:-.13px">0</div><div class="r" style="right:670.65px;top:82px;font-size:10px;color:#0e0e0e;letter-spacing:-.13px">1</div><div class="r" style="right:613.65px;top:82px;font-size:10px;color:#0e0e0e;letter-spacing:-.13px">$2,000.00</div><div class="r" style="right:553.05px;top:82px;font-size:10px;color:#0e0e0e;letter-spacing:-.13px">3.00</div><div class="r" style="right:495.95px;top:82px;font-size:10px;color:#0e0e0e;letter-spacing:-.13px">$6,000.00</div><div class="r" style="right:464.75px;top:82px;font-size:10px;color:#0e0e0e;letter-spacing:-.13px">0%</div><div class="r" style="right:409.05px;top:82px;font-size:10px;color:#0e0e0e;letter-spacing:-.13px">$6,000.00</div><div class="r" style="right:350.45px;top:82px;font-size:10px;color:#0e0e0e;letter-spacing:-.13px">$0.00</div><div class="r" style="right:292.35px;top:82px;font-size:10px;color:#0e0e0e;letter-spacing:-.13px">100%</div><div class="tg" style="left:1156.8px;top:80.8px"><i></i></div><div class="tg" style="left:1192.9px;top:80.8px"><i></i></div><div class="tg" style="left:1228.9px;top:80.8px"><i></i></div><div class="tg on" style="left:1264.9px;top:80.8px"><i></i></div><svg style="position:absolute;left:1308.5px;top:79.5px" width="12.8" height="12.8" viewBox="0 0 16 16" fill="#1e86ea" ><path d="M12.854.146a.5.5 0 0 0-.707 0L10.5 1.793 14.207 5.5l1.647-1.646a.5.5 0 0 0 0-.708l-3-3zm.646 6.061L9.793 2.5 3.293 9H3.5a.5.5 0 0 1 .5.5v.5h.5a.5.5 0 0 1 .5.5v.5h.5a.5.5 0 0 1 .5.5v.5h.5a.5.5 0 0 1 .5.5v.207l6.5-6.5zm-7.468 7.468A.5.5 0 0 1 6 13.5V13h-.5a.5.5 0 0 1-.5-.5V12h-.5a.5.5 0 0 1-.5-.5V11h-.5a.5.5 0 0 1-.5-.5V10h-.5a.499.499 0 0 1-.175-.032l-.179.178a.5.5 0 0 0-.11.168l-2 5a.5.5 0 0 0 .65.65l5-2a.5.5 0 0 0 .168-.11l.178-.178z"/></svg><svg style="position:absolute;left:1344.5px;top:79.5px" width="12.8" height="12.8" viewBox="0 0 16 16" fill="#1e86ea" ><path d="M12.854.146a.5.5 0 0 0-.707 0L10.5 1.793 14.207 5.5l1.647-1.646a.5.5 0 0 0 0-.708l-3-3zm.646 6.061L9.793 2.5 3.293 9H3.5a.5.5 0 0 1 .5.5v.5h.5a.5.5 0 0 1 .5.5v.5h.5a.5.5 0 0 1 .5.5v.5h.5a.5.5 0 0 1 .5.5v.207l6.5-6.5zm-7.468 7.468A.5.5 0 0 1 6 13.5V13h-.5a.5.5 0 0 1-.5-.5V12h-.5a.5.5 0 0 1-.5-.5V11h-.5a.5.5 0 0 1-.5-.5V10h-.5a.499.499 0 0 1-.175-.032l-.179.178a.5.5 0 0 0-.11.168l-2 5a.5.5 0 0 0 .65.65l5-2a.5.5 0 0 0 .168-.11l.178-.178z"/></svg><svg style="position:absolute;left:1376px;top:84.9px;overflow:visible" width="10.1" height="2.3" viewBox="0 0 10.1 2.3"><rect x="0" y="0" width="2.200" height="2.300" rx=".9" fill="#1e86ea"/><rect x="3.950" y="0" width="2.200" height="2.300" rx=".9" fill="#1e86ea"/><rect x="7.900" y="0" width="2.200" height="2.300" rx=".9" fill="#1e86ea"/></svg>
<div class="abs" style="left:152px;top:124px;width:1249px;height:1px;background:#dcdcdc"></div><div class="cb" style="left:176px;top:106px"></div><svg style="position:absolute;left:220.3px;top:106.2px" width="11.800" height="11.800" viewBox="0 0 11.800 11.800"><rect width="11.800" height="11.800" rx="2" fill="#c8c8c8"/><path d="M4.300 7.900V3.900L7.500 7.900V3.900" fill="none" stroke="#fff" stroke-width=".85" stroke-linejoin="miter" opacity=".92"/></svg><div class="t" style="left:239px;top:107px;font-size:10px;color:#0e0e0e;letter-spacing:-0.08px;">Moving Light, MAC Aura Wash LED</div><div class="r" style="right:930.35px;top:107px;font-size:10px;color:#0e0e0e;letter-spacing:-.13px">20</div><div class="r" style="right:875.65px;top:107px;font-size:10px;color:#0e0e0e;letter-spacing:-.13px">26</div><div class="r" style="right:830.65px;top:107px;font-size:10px;color:#0e0e0e;letter-spacing:-.13px">127</div><div class="r" style="right:774.05px;top:107px;font-size:10px;color:#0e0e0e;letter-spacing:-.13px">20</div><div class="r" style="right:715.65px;top:107px;font-size:10px;color:#0e0e0e;letter-spacing:-.13px">0</div><div class="r" style="right:670.65px;top:107px;font-size:10px;color:#0e0e0e;letter-spacing:-.13px">20</div><div class="r" style="right:613.65px;top:107px;font-size:10px;color:#0e0e0e;letter-spacing:-.13px">$450.00</div><div class="r" style="right:553.05px;top:107px;font-size:10px;color:#0e0e0e;letter-spacing:-.13px">3.00</div><div class="r" style="right:495.95px;top:107px;font-size:10px;color:#0e0e0e;letter-spacing:-.13px">$27,000.00</div><div class="r" style="right:464.75px;top:107px;font-size:10px;color:#0e0e0e;letter-spacing:-.13px">0%</div><div class="r" style="right:409.05px;top:107px;font-size:10px;color:#0e0e0e;letter-spacing:-.13px">$27,000.00</div><div class="r" style="right:350.45px;top:107px;font-size:10px;color:#0e0e0e;letter-spacing:-.13px">$0.00</div><div class="r" style="right:292.35px;top:107px;font-size:10px;color:#0e0e0e;letter-spacing:-.13px">100%</div><div class="tg" style="left:1156.8px;top:105.8px"><i></i></div><div class="tg" style="left:1192.9px;top:105.8px"><i></i></div><div class="tg" style="left:1228.9px;top:105.8px"><i></i></div><div class="tg on" style="left:1264.9px;top:105.8px"><i></i></div><svg style="position:absolute;left:1308.5px;top:104.5px" width="12.8" height="12.8" viewBox="0 0 16 16" fill="#1e86ea" ><path d="M12.854.146a.5.5 0 0 0-.707 0L10.5 1.793 14.207 5.5l1.647-1.646a.5.5 0 0 0 0-.708l-3-3zm.646 6.061L9.793 2.5 3.293 9H3.5a.5.5 0 0 1 .5.5v.5h.5a.5.5 0 0 1 .5.5v.5h.5a.5.5 0 0 1 .5.5v.5h.5a.5.5 0 0 1 .5.5v.207l6.5-6.5zm-7.468 7.468A.5.5 0 0 1 6 13.5V13h-.5a.5.5 0 0 1-.5-.5V12h-.5a.5.5 0 0 1-.5-.5V11h-.5a.5.5 0 0 1-.5-.5V10h-.5a.499.499 0 0 1-.175-.032l-.179.178a.5.5 0 0 0-.11.168l-2 5a.5.5 0 0 0 .65.65l5-2a.5.5 0 0 0 .168-.11l.178-.178z"/></svg><svg style="position:absolute;left:1344.5px;top:104.5px" width="12.8" height="12.8" viewBox="0 0 16 16" fill="#1e86ea" ><path d="M12.854.146a.5.5 0 0 0-.707 0L10.5 1.793 14.207 5.5l1.647-1.646a.5.5 0 0 0 0-.708l-3-3zm.646 6.061L9.793 2.5 3.293 9H3.5a.5.5 0 0 1 .5.5v.5h.5a.5.5 0 0 1 .5.5v.5h.5a.5.5 0 0 1 .5.5v.5h.5a.5.5 0 0 1 .5.5v.207l6.5-6.5zm-7.468 7.468A.5.5 0 0 1 6 13.5V13h-.5a.5.5 0 0 1-.5-.5V12h-.5a.5.5 0 0 1-.5-.5V11h-.5a.5.5 0 0 1-.5-.5V10h-.5a.499.499 0 0 1-.175-.032l-.179.178a.5.5 0 0 0-.11.168l-2 5a.5.5 0 0 0 .65.65l5-2a.5.5 0 0 0 .168-.11l.178-.178z"/></svg><svg style="position:absolute;left:1376px;top:109.9px;overflow:visible" width="10.1" height="2.3" viewBox="0 0 10.1 2.3"><rect x="0" y="0" width="2.200" height="2.300" rx=".9" fill="#1e86ea"/><rect x="3.950" y="0" width="2.200" height="2.300" rx=".9" fill="#1e86ea"/><rect x="7.900" y="0" width="2.200" height="2.300" rx=".9" fill="#1e86ea"/></svg>
<div class="abs" style="left:152px;top:149px;width:1249px;height:1px;background:#dcdcdc"></div><div class="cb" style="left:176px;top:131px"></div><svg style="position:absolute;left:222px;top:132px;overflow:visible" width="6" height="10" viewBox="0 0 6 10"><path d="M.5 .5l4.800 4.500L.5 9.500" fill="none" stroke="#333" stroke-width="1.100" stroke-linecap="round" stroke-linejoin="round"/></svg><svg style="position:absolute;left:244.2px;top:131.2px" width="11.800" height="11.800" viewBox="0 0 11.800 11.800"><rect width="11.800" height="11.800" rx="2" fill="#c8c8c8"/><path d="M4.300 7.900V3.900L7.500 7.900V3.900" fill="none" stroke="#fff" stroke-width=".85" stroke-linejoin="miter" opacity=".92"/></svg><div class="t" style="left:263px;top:132px;font-size:10px;color:#0e0e0e;letter-spacing:-0.04px;">Moving Light, MAC Viper Performance</div><div class="r" style="right:930.35px;top:132px;font-size:10px;color:#0e0e0e;letter-spacing:-.13px">20</div><div class="r" style="right:875.65px;top:132px;font-size:10px;color:#0e0e0e;letter-spacing:-.13px">76</div><div class="r" style="right:830.65px;top:132px;font-size:10px;color:#0e0e0e;letter-spacing:-.13px">62</div><div class="r" style="right:774.05px;top:132px;font-size:10px;color:#0e0e0e;letter-spacing:-.13px">20</div><div class="r" style="right:715.65px;top:132px;font-size:10px;color:#0e0e0e;letter-spacing:-.13px">0</div><div class="r" style="right:670.65px;top:132px;font-size:10px;color:#0e0e0e;letter-spacing:-.13px">20</div><div class="r" style="right:613.65px;top:132px;font-size:10px;color:#0e0e0e;letter-spacing:-.13px">$800.00</div><div class="r" style="right:553.05px;top:132px;font-size:10px;color:#0e0e0e;letter-spacing:-.13px">3.00</div><div class="r" style="right:495.95px;top:132px;font-size:10px;color:#0e0e0e;letter-spacing:-.13px">$48,000.00</div><div class="r" style="right:464.75px;top:132px;font-size:10px;color:#0e0e0e;letter-spacing:-.13px">0%</div><div class="r" style="right:409.05px;top:132px;font-size:10px;color:#0e0e0e;letter-spacing:-.13px">$48,000.00</div><div class="r" style="right:350.45px;top:132px;font-size:10px;color:#0e0e0e;letter-spacing:-.13px">$15,000.00</div><div class="r" style="right:292.35px;top:132px;font-size:10px;color:#0e0e0e;letter-spacing:-.13px">68.8%</div><div class="tg" style="left:1156.8px;top:130.8px"><i></i></div><div class="tg" style="left:1192.9px;top:130.8px"><i></i></div><div class="tg" style="left:1228.9px;top:130.8px"><i></i></div><div class="tg on" style="left:1264.9px;top:130.8px"><i></i></div><svg style="position:absolute;left:1308.5px;top:129.5px" width="12.8" height="12.8" viewBox="0 0 16 16" fill="#1e86ea" ><path d="M12.854.146a.5.5 0 0 0-.707 0L10.5 1.793 14.207 5.5l1.647-1.646a.5.5 0 0 0 0-.708l-3-3zm.646 6.061L9.793 2.5 3.293 9H3.5a.5.5 0 0 1 .5.5v.5h.5a.5.5 0 0 1 .5.5v.5h.5a.5.5 0 0 1 .5.5v.5h.5a.5.5 0 0 1 .5.5v.207l6.5-6.5zm-7.468 7.468A.5.5 0 0 1 6 13.5V13h-.5a.5.5 0 0 1-.5-.5V12h-.5a.5.5 0 0 1-.5-.5V11h-.5a.5.5 0 0 1-.5-.5V10h-.5a.499.499 0 0 1-.175-.032l-.179.178a.5.5 0 0 0-.11.168l-2 5a.5.5 0 0 0 .65.65l5-2a.5.5 0 0 0 .168-.11l.178-.178z"/></svg><svg style="position:absolute;left:1344.5px;top:129.5px" width="12.8" height="12.8" viewBox="0 0 16 16" fill="#1e86ea" ><path d="M12.854.146a.5.5 0 0 0-.707 0L10.5 1.793 14.207 5.5l1.647-1.646a.5.5 0 0 0 0-.708l-3-3zm.646 6.061L9.793 2.5 3.293 9H3.5a.5.5 0 0 1 .5.5v.5h.5a.5.5 0 0 1 .5.5v.5h.5a.5.5 0 0 1 .5.5v.5h.5a.5.5 0 0 1 .5.5v.207l6.5-6.5zm-7.468 7.468A.5.5 0 0 1 6 13.5V13h-.5a.5.5 0 0 1-.5-.5V12h-.5a.5.5 0 0 1-.5-.5V11h-.5a.5.5 0 0 1-.5-.5V10h-.5a.499.499 0 0 1-.175-.032l-.179.178a.5.5 0 0 0-.11.168l-2 5a.5.5 0 0 0 .65.65l5-2a.5.5 0 0 0 .168-.11l.178-.178z"/></svg><svg style="position:absolute;left:1376px;top:134.9px;overflow:visible" width="10.1" height="2.3" viewBox="0 0 10.1 2.3"><rect x="0" y="0" width="2.200" height="2.300" rx=".9" fill="#1e86ea"/><rect x="3.950" y="0" width="2.200" height="2.300" rx=".9" fill="#1e86ea"/><rect x="7.900" y="0" width="2.200" height="2.300" rx=".9" fill="#1e86ea"/></svg>
<div class="abs" style="left:152px;top:174px;width:1249px;height:1px;background:#dcdcdc"></div><div class="cb" style="left:176px;top:156px"></div><svg style="position:absolute;left:220.3px;top:156.2px" width="11.800" height="11.800" viewBox="0 0 11.800 11.800"><rect width="11.800" height="11.800" rx="2" fill="#c8c8c8"/><path d="M4.300 7.900V3.900L7.500 7.900V3.900" fill="none" stroke="#fff" stroke-width=".85" stroke-linejoin="miter" opacity=".92"/></svg><div class="t" style="left:239px;top:157px;font-size:10px;color:#0e0e0e;letter-spacing:-0.26px;">Hazer, Radiance</div><div class="r" style="right:930.35px;top:157px;font-size:10px;color:#0e0e0e;letter-spacing:-.13px">4</div><div class="r" style="right:875.65px;top:157px;font-size:10px;color:#0e0e0e;letter-spacing:-.13px">6</div><div class="r" style="right:830.65px;top:157px;font-size:10px;color:#0e0e0e;letter-spacing:-.13px">27</div><div class="r" style="right:774.05px;top:157px;font-size:10px;color:#0e0e0e;letter-spacing:-.13px">4</div><div class="r" style="right:715.65px;top:157px;font-size:10px;color:#0e0e0e;letter-spacing:-.13px">0</div><div class="r" style="right:670.65px;top:157px;font-size:10px;color:#0e0e0e;letter-spacing:-.13px">4</div><div class="r" style="right:613.65px;top:157px;font-size:10px;color:#0e0e0e;letter-spacing:-.13px">$250.00</div><div class="r" style="right:553.05px;top:157px;font-size:10px;color:#0e0e0e;letter-spacing:-.13px">3.00</div><div class="r" style="right:495.95px;top:157px;font-size:10px;color:#0e0e0e;letter-spacing:-.13px">$3,000.00</div><div class="r" style="right:464.75px;top:157px;font-size:10px;color:#0e0e0e;letter-spacing:-.13px">0%</div><div class="r" style="right:409.05px;top:157px;font-size:10px;color:#0e0e0e;letter-spacing:-.13px">$3,000.00</div><div class="r" style="right:350.45px;top:157px;font-size:10px;color:#0e0e0e;letter-spacing:-.13px">$0.00</div><div class="r" style="right:292.35px;top:157px;font-size:10px;color:#0e0e0e;letter-spacing:-.13px">100%</div><div class="tg" style="left:1156.8px;top:155.8px"><i></i></div><div class="tg" style="left:1192.9px;top:155.8px"><i></i></div><div class="tg" style="left:1228.9px;top:155.8px"><i></i></div><div class="tg on" style="left:1264.9px;top:155.8px"><i></i></div><svg style="position:absolute;left:1308.5px;top:154.5px" width="12.8" height="12.8" viewBox="0 0 16 16" fill="#1e86ea" ><path d="M12.854.146a.5.5 0 0 0-.707 0L10.5 1.793 14.207 5.5l1.647-1.646a.5.5 0 0 0 0-.708l-3-3zm.646 6.061L9.793 2.5 3.293 9H3.5a.5.5 0 0 1 .5.5v.5h.5a.5.5 0 0 1 .5.5v.5h.5a.5.5 0 0 1 .5.5v.5h.5a.5.5 0 0 1 .5.5v.207l6.5-6.5zm-7.468 7.468A.5.5 0 0 1 6 13.5V13h-.5a.5.5 0 0 1-.5-.5V12h-.5a.5.5 0 0 1-.5-.5V11h-.5a.5.5 0 0 1-.5-.5V10h-.5a.499.499 0 0 1-.175-.032l-.179.178a.5.5 0 0 0-.11.168l-2 5a.5.5 0 0 0 .65.65l5-2a.5.5 0 0 0 .168-.11l.178-.178z"/></svg><svg style="position:absolute;left:1344.5px;top:154.5px" width="12.8" height="12.8" viewBox="0 0 16 16" fill="#1e86ea" ><path d="M12.854.146a.5.5 0 0 0-.707 0L10.5 1.793 14.207 5.5l1.647-1.646a.5.5 0 0 0 0-.708l-3-3zm.646 6.061L9.793 2.5 3.293 9H3.5a.5.5 0 0 1 .5.5v.5h.5a.5.5 0 0 1 .5.5v.5h.5a.5.5 0 0 1 .5.5v.5h.5a.5.5 0 0 1 .5.5v.207l6.5-6.5zm-7.468 7.468A.5.5 0 0 1 6 13.5V13h-.5a.5.5 0 0 1-.5-.5V12h-.5a.5.5 0 0 1-.5-.5V11h-.5a.5.5 0 0 1-.5-.5V10h-.5a.499.499 0 0 1-.175-.032l-.179.178a.5.5 0 0 0-.11.168l-2 5a.5.5 0 0 0 .65.65l5-2a.5.5 0 0 0 .168-.11l.178-.178z"/></svg><svg style="position:absolute;left:1376px;top:159.9px;overflow:visible" width="10.1" height="2.3" viewBox="0 0 10.1 2.3"><rect x="0" y="0" width="2.200" height="2.300" rx=".9" fill="#1e86ea"/><rect x="3.950" y="0" width="2.200" height="2.300" rx=".9" fill="#1e86ea"/><rect x="7.900" y="0" width="2.200" height="2.300" rx=".9" fill="#1e86ea"/></svg>
<div class="abs" style="left:152px;top:199px;width:1249px;height:1px;background:#dcdcdc"></div><div class="cb" style="left:176px;top:181px"></div><svg style="position:absolute;left:222px;top:182px;overflow:visible" width="6" height="10" viewBox="0 0 6 10"><path d="M.5 .5l4.800 4.500L.5 9.500" fill="none" stroke="#333" stroke-width="1.100" stroke-linecap="round" stroke-linejoin="round"/></svg><svg style="position:absolute;left:244.2px;top:181.2px" width="12" height="12" viewBox="0 0 12 12"><rect x=".5" y=".5" width="11" height="2.300" fill="#fff" stroke="#c4c4c4" stroke-width=".8"/><rect x="1" y="3.300" width="10" height="8.200" fill="#c9c9c9"/><rect x="4.300" y="6.300" width="3.400" height="3" fill="#fff"/><path d="M5 6.300v-.8a1 1 0 0 1 2 0v.8" stroke="#fff" stroke-width=".7" fill="none"/></svg><div class="t" style="left:263px;top:182px;font-size:10px;color:#0e0e0e;letter-spacing:-0.22px;">DMX Cable Package</div><div class="r" style="right:930.35px;top:182px;font-size:10px;color:#0e0e0e;letter-spacing:-.13px">1</div><div class="r" style="right:875.65px;top:182px;font-size:10px;color:#0e0e0e;letter-spacing:-.13px">9</div><div class="r" style="right:830.65px;top:182px;font-size:10px;color:#0e0e0e;letter-spacing:-.13px">4</div><div class="r" style="right:774.05px;top:182px;font-size:10px;color:#0e0e0e;letter-spacing:-.13px">1</div><div class="r" style="right:715.65px;top:182px;font-size:10px;color:#0e0e0e;letter-spacing:-.13px">0</div><div class="r" style="right:670.65px;top:182px;font-size:10px;color:#0e0e0e;letter-spacing:-.13px">1</div><div class="r" style="right:613.65px;top:182px;font-size:10px;color:#0e0e0e;letter-spacing:-.13px">$1,500.00</div><div class="r" style="right:553.05px;top:182px;font-size:10px;color:#0e0e0e;letter-spacing:-.13px">3.00</div><div class="r" style="right:495.95px;top:182px;font-size:10px;color:#0e0e0e;letter-spacing:-.13px">$4,500.00</div><div class="r" style="right:464.75px;top:182px;font-size:10px;color:#0e0e0e;letter-spacing:-.13px">0%</div><div class="r" style="right:409.05px;top:182px;font-size:10px;color:#0e0e0e;letter-spacing:-.13px">$4,500.00</div><div class="tg" style="left:1156.8px;top:180.8px"><i></i></div><div class="tg" style="left:1192.9px;top:180.8px"><i></i></div><div class="tg" style="left:1228.9px;top:180.8px"><i></i></div><div class="tg on" style="left:1264.9px;top:180.8px"><i></i></div><svg style="position:absolute;left:1308.5px;top:179.5px" width="12.8" height="12.8" viewBox="0 0 16 16" fill="#1e86ea" ><path d="M12.854.146a.5.5 0 0 0-.707 0L10.5 1.793 14.207 5.5l1.647-1.646a.5.5 0 0 0 0-.708l-3-3zm.646 6.061L9.793 2.5 3.293 9H3.5a.5.5 0 0 1 .5.5v.5h.5a.5.5 0 0 1 .5.5v.5h.5a.5.5 0 0 1 .5.5v.5h.5a.5.5 0 0 1 .5.5v.207l6.5-6.5zm-7.468 7.468A.5.5 0 0 1 6 13.5V13h-.5a.5.5 0 0 1-.5-.5V12h-.5a.5.5 0 0 1-.5-.5V11h-.5a.5.5 0 0 1-.5-.5V10h-.5a.499.499 0 0 1-.175-.032l-.179.178a.5.5 0 0 0-.11.168l-2 5a.5.5 0 0 0 .65.65l5-2a.5.5 0 0 0 .168-.11l.178-.178z"/></svg><svg style="position:absolute;left:1344.5px;top:179.5px" width="12.8" height="12.8" viewBox="0 0 16 16" fill="#1e86ea" ><path d="M12.854.146a.5.5 0 0 0-.707 0L10.5 1.793 14.207 5.5l1.647-1.646a.5.5 0 0 0 0-.708l-3-3zm.646 6.061L9.793 2.5 3.293 9H3.5a.5.5 0 0 1 .5.5v.5h.5a.5.5 0 0 1 .5.5v.5h.5a.5.5 0 0 1 .5.5v.5h.5a.5.5 0 0 1 .5.5v.207l6.5-6.5zm-7.468 7.468A.5.5 0 0 1 6 13.5V13h-.5a.5.5 0 0 1-.5-.5V12h-.5a.5.5 0 0 1-.5-.5V11h-.5a.5.5 0 0 1-.5-.5V10h-.5a.499.499 0 0 1-.175-.032l-.179.178a.5.5 0 0 0-.11.168l-2 5a.5.5 0 0 0 .65.65l5-2a.5.5 0 0 0 .168-.11l.178-.178z"/></svg><svg style="position:absolute;left:1376px;top:184.9px;overflow:visible" width="10.1" height="2.3" viewBox="0 0 10.1 2.3"><rect x="0" y="0" width="2.200" height="2.300" rx=".9" fill="#1e86ea"/><rect x="3.950" y="0" width="2.200" height="2.300" rx=".9" fill="#1e86ea"/><rect x="7.900" y="0" width="2.200" height="2.300" rx=".9" fill="#1e86ea"/></svg>
<div class="abs" style="left:152px;top:224px;width:1249px;height:1px;background:#dcdcdc"></div><div class="cb" style="left:176px;top:206px"></div><svg style="position:absolute;left:222px;top:207px;overflow:visible" width="6" height="10" viewBox="0 0 6 10"><path d="M.5 .5l4.800 4.500L.5 9.500" fill="none" stroke="#333" stroke-width="1.100" stroke-linecap="round" stroke-linejoin="round"/></svg><svg style="position:absolute;left:244.2px;top:206.2px" width="12" height="12" viewBox="0 0 12 12"><rect x=".5" y=".5" width="11" height="2.300" fill="#fff" stroke="#c4c4c4" stroke-width=".8"/><rect x="1" y="3.300" width="10" height="8.200" fill="#c9c9c9"/><rect x="4.300" y="6.300" width="3.400" height="3" fill="#fff"/><path d="M5 6.300v-.8a1 1 0 0 1 2 0v.8" stroke="#fff" stroke-width=".7" fill="none"/></svg><div class="t" style="left:263px;top:207px;font-size:10px;color:#0e0e0e;letter-spacing:0.03px;">Lighting Work Box</div><div class="r" style="right:930.35px;top:207px;font-size:10px;color:#0e0e0e;letter-spacing:-.13px">1</div><div class="r" style="right:875.65px;top:207px;font-size:10px;color:#0e0e0e;letter-spacing:-.13px">9</div><div class="r" style="right:830.65px;top:207px;font-size:10px;color:#0e0e0e;letter-spacing:-.13px">3</div><div class="r" style="right:774.05px;top:207px;font-size:10px;color:#0e0e0e;letter-spacing:-.13px">1</div><div class="r" style="right:715.65px;top:207px;font-size:10px;color:#0e0e0e;letter-spacing:-.13px">0</div><div class="r" style="right:670.65px;top:207px;font-size:10px;color:#0e0e0e;letter-spacing:-.13px">1</div><div class="r" style="right:613.65px;top:207px;font-size:10px;color:#0e0e0e;letter-spacing:-.13px">$500.00</div><div class="r" style="right:553.05px;top:207px;font-size:10px;color:#0e0e0e;letter-spacing:-.13px">3.00</div><div class="r" style="right:495.95px;top:207px;font-size:10px;color:#0e0e0e;letter-spacing:-.13px">$1,500.00</div><div class="r" style="right:464.75px;top:207px;font-size:10px;color:#0e0e0e;letter-spacing:-.13px">0%</div><div class="r" style="right:409.05px;top:207px;font-size:10px;color:#0e0e0e;letter-spacing:-.13px">$1,500.00</div><div class="tg" style="left:1156.8px;top:205.8px"><i></i></div><div class="tg" style="left:1192.9px;top:205.8px"><i></i></div><div class="tg" style="left:1228.9px;top:205.8px"><i></i></div><div class="tg on" style="left:1264.9px;top:205.8px"><i></i></div><svg style="position:absolute;left:1308.5px;top:204.5px" width="12.8" height="12.8" viewBox="0 0 16 16" fill="#1e86ea" ><path d="M12.854.146a.5.5 0 0 0-.707 0L10.5 1.793 14.207 5.5l1.647-1.646a.5.5 0 0 0 0-.708l-3-3zm.646 6.061L9.793 2.5 3.293 9H3.5a.5.5 0 0 1 .5.5v.5h.5a.5.5 0 0 1 .5.5v.5h.5a.5.5 0 0 1 .5.5v.5h.5a.5.5 0 0 1 .5.5v.207l6.5-6.5zm-7.468 7.468A.5.5 0 0 1 6 13.5V13h-.5a.5.5 0 0 1-.5-.5V12h-.5a.5.5 0 0 1-.5-.5V11h-.5a.5.5 0 0 1-.5-.5V10h-.5a.499.499 0 0 1-.175-.032l-.179.178a.5.5 0 0 0-.11.168l-2 5a.5.5 0 0 0 .65.65l5-2a.5.5 0 0 0 .168-.11l.178-.178z"/></svg><svg style="position:absolute;left:1344.5px;top:204.5px" width="12.8" height="12.8" viewBox="0 0 16 16" fill="#1e86ea" ><path d="M12.854.146a.5.5 0 0 0-.707 0L10.5 1.793 14.207 5.5l1.647-1.646a.5.5 0 0 0 0-.708l-3-3zm.646 6.061L9.793 2.5 3.293 9H3.5a.5.5 0 0 1 .5.5v.5h.5a.5.5 0 0 1 .5.5v.5h.5a.5.5 0 0 1 .5.5v.5h.5a.5.5 0 0 1 .5.5v.207l6.5-6.5zm-7.468 7.468A.5.5 0 0 1 6 13.5V13h-.5a.5.5 0 0 1-.5-.5V12h-.5a.5.5 0 0 1-.5-.5V11h-.5a.5.5 0 0 1-.5-.5V10h-.5a.499.499 0 0 1-.175-.032l-.179.178a.5.5 0 0 0-.11.168l-2 5a.5.5 0 0 0 .65.65l5-2a.5.5 0 0 0 .168-.11l.178-.178z"/></svg><svg style="position:absolute;left:1376px;top:209.9px;overflow:visible" width="10.1" height="2.3" viewBox="0 0 10.1 2.3"><rect x="0" y="0" width="2.200" height="2.300" rx=".9" fill="#1e86ea"/><rect x="3.950" y="0" width="2.200" height="2.300" rx=".9" fill="#1e86ea"/><rect x="7.900" y="0" width="2.200" height="2.300" rx=".9" fill="#1e86ea"/></svg>
<div class="abs" style="left:152px;top:249px;width:1249px;height:1px;background:#dcdcdc"></div><div class="cb" style="left:176px;top:231px"></div><svg style="position:absolute;left:222px;top:232px;overflow:visible" width="6" height="10" viewBox="0 0 6 10"><path d="M.5 .5l4.800 4.500L.5 9.500" fill="none" stroke="#333" stroke-width="1.100" stroke-linecap="round" stroke-linejoin="round"/></svg><svg style="position:absolute;left:244.2px;top:231.2px" width="12" height="12" viewBox="0 0 12 12"><rect x=".5" y=".5" width="11" height="2.300" fill="#fff" stroke="#c4c4c4" stroke-width=".8"/><rect x="1" y="3.300" width="10" height="8.200" fill="#c9c9c9"/><rect x="4.300" y="6.300" width="3.400" height="3" fill="#fff"/><path d="M5 6.300v-.8a1 1 0 0 1 2 0v.8" stroke="#fff" stroke-width=".7" fill="none"/></svg><div class="t" style="left:263px;top:232px;font-size:10px;color:#0e0e0e;letter-spacing:-0.13px;">powerCON Cable Package</div><div class="r" style="right:930.35px;top:232px;font-size:10px;color:#0e0e0e;letter-spacing:-.13px">1</div><div class="r" style="right:875.65px;top:232px;font-size:10px;color:#0e0e0e;letter-spacing:-.13px">3</div><div class="r" style="right:830.65px;top:232px;font-size:10px;color:#0e0e0e;letter-spacing:-.13px">3</div><div class="r" style="right:774.05px;top:232px;font-size:10px;color:#0e0e0e;letter-spacing:-.13px">1</div><div class="r" style="right:715.65px;top:232px;font-size:10px;color:#0e0e0e;letter-spacing:-.13px">0</div><div class="r" style="right:670.65px;top:232px;font-size:10px;color:#0e0e0e;letter-spacing:-.13px">1</div><div class="r" style="right:613.65px;top:232px;font-size:10px;color:#0e0e0e;letter-spacing:-.13px">$500.00</div><div class="r" style="right:553.05px;top:232px;font-size:10px;color:#0e0e0e;letter-spacing:-.13px">3.00</div><div class="r" style="right:495.95px;top:232px;font-size:10px;color:#0e0e0e;letter-spacing:-.13px">$1,500.00</div><div class="r" style="right:464.75px;top:232px;font-size:10px;color:#0e0e0e;letter-spacing:-.13px">0%</div><div class="r" style="right:409.05px;top:232px;font-size:10px;color:#0e0e0e;letter-spacing:-.13px">$1,500.00</div><div class="tg" style="left:1156.8px;top:230.8px"><i></i></div><div class="tg" style="left:1192.9px;top:230.8px"><i></i></div><div class="tg" style="left:1228.9px;top:230.8px"><i></i></div><div class="tg on" style="left:1264.9px;top:230.8px"><i></i></div><svg style="position:absolute;left:1308.5px;top:229.5px" width="12.8" height="12.8" viewBox="0 0 16 16" fill="#1e86ea" ><path d="M12.854.146a.5.5 0 0 0-.707 0L10.5 1.793 14.207 5.5l1.647-1.646a.5.5 0 0 0 0-.708l-3-3zm.646 6.061L9.793 2.5 3.293 9H3.5a.5.5 0 0 1 .5.5v.5h.5a.5.5 0 0 1 .5.5v.5h.5a.5.5 0 0 1 .5.5v.5h.5a.5.5 0 0 1 .5.5v.207l6.5-6.5zm-7.468 7.468A.5.5 0 0 1 6 13.5V13h-.5a.5.5 0 0 1-.5-.5V12h-.5a.5.5 0 0 1-.5-.5V11h-.5a.5.5 0 0 1-.5-.5V10h-.5a.499.499 0 0 1-.175-.032l-.179.178a.5.5 0 0 0-.11.168l-2 5a.5.5 0 0 0 .65.65l5-2a.5.5 0 0 0 .168-.11l.178-.178z"/></svg><svg style="position:absolute;left:1344.5px;top:229.5px" width="12.8" height="12.8" viewBox="0 0 16 16" fill="#1e86ea" ><path d="M12.854.146a.5.5 0 0 0-.707 0L10.5 1.793 14.207 5.5l1.647-1.646a.5.5 0 0 0 0-.708l-3-3zm.646 6.061L9.793 2.5 3.293 9H3.5a.5.5 0 0 1 .5.5v.5h.5a.5.5 0 0 1 .5.5v.5h.5a.5.5 0 0 1 .5.5v.5h.5a.5.5 0 0 1 .5.5v.207l6.5-6.5zm-7.468 7.468A.5.5 0 0 1 6 13.5V13h-.5a.5.5 0 0 1-.5-.5V12h-.5a.5.5 0 0 1-.5-.5V11h-.5a.5.5 0 0 1-.5-.5V10h-.5a.499.499 0 0 1-.175-.032l-.179.178a.5.5 0 0 0-.11.168l-2 5a.5.5 0 0 0 .65.65l5-2a.5.5 0 0 0 .168-.11l.178-.178z"/></svg><svg style="position:absolute;left:1376px;top:234.9px;overflow:visible" width="10.1" height="2.3" viewBox="0 0 10.1 2.3"><rect x="0" y="0" width="2.200" height="2.300" rx=".9" fill="#1e86ea"/><rect x="3.950" y="0" width="2.200" height="2.300" rx=".9" fill="#1e86ea"/><rect x="7.900" y="0" width="2.200" height="2.300" rx=".9" fill="#1e86ea"/></svg>
<div class="abs" style="left:152px;top:274px;width:1249px;height:1px;background:#dcdcdc"></div><div class="cb" style="left:176px;top:256px"></div><svg style="position:absolute;left:222px;top:257px;overflow:visible" width="6" height="10" viewBox="0 0 6 10"><path d="M.5 .5l4.800 4.500L.5 9.500" fill="none" stroke="#333" stroke-width="1.100" stroke-linecap="round" stroke-linejoin="round"/></svg><svg style="position:absolute;left:244.2px;top:256.2px" width="11.800" height="11.800" viewBox="0 0 11.800 11.800"><rect width="11.800" height="11.800" rx="2" fill="#c8c8c8"/><path d="M4.300 7.900V3.900L7.500 7.900V3.900" fill="none" stroke="#fff" stroke-width=".85" stroke-linejoin="miter" opacity=".92"/></svg><div class="t" style="left:263px;top:257px;font-size:10px;color:#0e0e0e;letter-spacing:-0.04px;">Moving Light, MAC Viper Performance</div><div class="r" style="right:930.35px;top:257px;font-size:10px;color:#0e0e0e;letter-spacing:-.13px">5</div><div class="r" style="right:875.65px;top:257px;font-size:10px;color:#0e0e0e;letter-spacing:-.13px">76</div><div class="r" style="right:830.65px;top:257px;font-size:10px;color:#0e0e0e;letter-spacing:-.13px">62</div><div class="r" style="right:774.05px;top:257px;font-size:10px;color:#0e0e0e;letter-spacing:-.13px">5</div><div class="r" style="right:715.65px;top:257px;font-size:10px;color:#0e0e0e;letter-spacing:-.13px">0</div><div class="r" style="right:670.65px;top:257px;font-size:10px;color:#0e0e0e;letter-spacing:-.13px">5</div><div class="r" style="right:613.65px;top:257px;font-size:10px;color:#0e0e0e;letter-spacing:-.13px">$800.00</div><div class="r" style="right:553.05px;top:257px;font-size:10px;color:#0e0e0e;letter-spacing:-.13px">3.00</div><div class="r" style="right:495.95px;top:257px;font-size:10px;color:#0e0e0e;letter-spacing:-.13px">$12,000.00</div><div class="r" style="right:464.75px;top:257px;font-size:10px;color:#0e0e0e;letter-spacing:-.13px">0%</div><div class="r" style="right:409.05px;top:257px;font-size:10px;color:#0e0e0e;letter-spacing:-.13px">$12,000.00</div><div class="r" style="right:350.45px;top:257px;font-size:10px;color:#0e0e0e;letter-spacing:-.13px">$3,750.00</div><div class="r" style="right:292.35px;top:257px;font-size:10px;color:#0e0e0e;letter-spacing:-.13px">68.8%</div><div class="tg" style="left:1156.8px;top:255.8px"><i></i></div><div class="tg" style="left:1192.9px;top:255.8px"><i></i></div><div class="tg" style="left:1228.9px;top:255.8px"><i></i></div><div class="tg on" style="left:1264.9px;top:255.8px"><i></i></div><svg style="position:absolute;left:1308.5px;top:254.5px" width="12.8" height="12.8" viewBox="0 0 16 16" fill="#1e86ea" ><path d="M12.854.146a.5.5 0 0 0-.707 0L10.5 1.793 14.207 5.5l1.647-1.646a.5.5 0 0 0 0-.708l-3-3zm.646 6.061L9.793 2.5 3.293 9H3.5a.5.5 0 0 1 .5.5v.5h.5a.5.5 0 0 1 .5.5v.5h.5a.5.5 0 0 1 .5.5v.5h.5a.5.5 0 0 1 .5.5v.207l6.5-6.5zm-7.468 7.468A.5.5 0 0 1 6 13.5V13h-.5a.5.5 0 0 1-.5-.5V12h-.5a.5.5 0 0 1-.5-.5V11h-.5a.5.5 0 0 1-.5-.5V10h-.5a.499.499 0 0 1-.175-.032l-.179.178a.5.5 0 0 0-.11.168l-2 5a.5.5 0 0 0 .65.65l5-2a.5.5 0 0 0 .168-.11l.178-.178z"/></svg><svg style="position:absolute;left:1344.5px;top:254.5px" width="12.8" height="12.8" viewBox="0 0 16 16" fill="#1e86ea" ><path d="M12.854.146a.5.5 0 0 0-.707 0L10.5 1.793 14.207 5.5l1.647-1.646a.5.5 0 0 0 0-.708l-3-3zm.646 6.061L9.793 2.5 3.293 9H3.5a.5.5 0 0 1 .5.5v.5h.5a.5.5 0 0 1 .5.5v.5h.5a.5.5 0 0 1 .5.5v.5h.5a.5.5 0 0 1 .5.5v.207l6.5-6.5zm-7.468 7.468A.5.5 0 0 1 6 13.5V13h-.5a.5.5 0 0 1-.5-.5V12h-.5a.5.5 0 0 1-.5-.5V11h-.5a.5.5 0 0 1-.5-.5V10h-.5a.499.499 0 0 1-.175-.032l-.179.178a.5.5 0 0 0-.11.168l-2 5a.5.5 0 0 0 .65.65l5-2a.5.5 0 0 0 .168-.11l.178-.178z"/></svg><svg style="position:absolute;left:1376px;top:259.9px;overflow:visible" width="10.1" height="2.3" viewBox="0 0 10.1 2.3"><rect x="0" y="0" width="2.200" height="2.300" rx=".9" fill="#1e86ea"/><rect x="3.950" y="0" width="2.200" height="2.300" rx=".9" fill="#1e86ea"/><rect x="7.900" y="0" width="2.200" height="2.300" rx=".9" fill="#1e86ea"/></svg>
<div class="abs" style="left:152px;top:299px;width:1249px;height:1px;background:#dcdcdc"></div><div class="t" style="left:226.9px;top:282px;font-size:9.3px;color:#333;letter-spacing:0.23px;">Enter Product</div><svg style="position:absolute;left:443.3px;top:285.8px;overflow:visible" width="7.6" height="4.2" viewBox="0 0 7.6 4.2"><polygon points="0,0 7.600,0 3.800,4.200" fill="#858585"/></svg><svg style="position:absolute;left:466.8px;top:279.8px;overflow:visible" width="12.5" height="12.5" viewBox="0 0 12.5 12.5"><circle cx="5.300" cy="5.300" r="4.750" fill="none" stroke="#2f80d2" stroke-width=".95"/><path d="M8.800 8.800L12 12" stroke="#2f80d2" stroke-width="1.400" stroke-linecap="round"/></svg><div class="r" style="right:930.35px;top:282px;font-size:10px;color:#0e0e0e;letter-spacing:-.13px">1</div><div class="r" style="right:875.65px;top:282px;font-size:10px;color:#0e0e0e;letter-spacing:-.13px">0</div><div class="r" style="right:830.65px;top:282px;font-size:10px;color:#0e0e0e;letter-spacing:-.13px">0</div><div class="r" style="right:774.05px;top:282px;font-size:10px;color:#0e0e0e;letter-spacing:-.13px">0</div><div class="r" style="right:715.65px;top:282px;font-size:10px;color:#0e0e0e;letter-spacing:-.13px">0</div><div class="r" style="right:670.65px;top:282px;font-size:10px;color:#0e0e0e;letter-spacing:-.13px">1</div><div class="r" style="right:613.65px;top:282px;font-size:10px;color:#0e0e0e;letter-spacing:-.13px">$0.00</div><div class="r" style="right:553.05px;top:282px;font-size:10px;color:#0e0e0e;letter-spacing:-.13px">1.00</div><div class="r" style="right:495.95px;top:282px;font-size:10px;color:#0e0e0e;letter-spacing:-.13px">$0.00</div><div class="r" style="right:464.75px;top:282px;font-size:10px;color:#0e0e0e;letter-spacing:-.13px">0%</div><div class="r" style="right:409.05px;top:282px;font-size:10px;color:#0e0e0e;letter-spacing:-.13px">$0.00</div><div class="r" style="right:350.45px;top:282px;font-size:10px;color:#0e0e0e;letter-spacing:-.13px">$0.00</div><div class="r" style="right:292.35px;top:282px;font-size:10px;color:#0e0e0e;letter-spacing:-.13px">0%</div><div class="tg dis" style="left:1156.8px;top:280.8px"><i></i></div><div class="tg dis" style="left:1192.9px;top:280.8px"><i></i></div><div class="tg dis" style="left:1228.9px;top:280.8px"><i></i></div><div class="tg on dis" style="left:1264.9px;top:280.8px"><i></i></div><svg style="position:absolute;left:1308.5px;top:279.5px" width="12.8" height="12.8" viewBox="0 0 16 16" fill="#1e86ea" ><path d="M12.854.146a.5.5 0 0 0-.707 0L10.5 1.793 14.207 5.5l1.647-1.646a.5.5 0 0 0 0-.708l-3-3zm.646 6.061L9.793 2.5 3.293 9H3.5a.5.5 0 0 1 .5.5v.5h.5a.5.5 0 0 1 .5.5v.5h.5a.5.5 0 0 1 .5.5v.5h.5a.5.5 0 0 1 .5.5v.207l6.5-6.5zm-7.468 7.468A.5.5 0 0 1 6 13.5V13h-.5a.5.5 0 0 1-.5-.5V12h-.5a.5.5 0 0 1-.5-.5V11h-.5a.5.5 0 0 1-.5-.5V10h-.5a.499.499 0 0 1-.175-.032l-.179.178a.5.5 0 0 0-.11.168l-2 5a.5.5 0 0 0 .65.65l5-2a.5.5 0 0 0 .168-.11l.178-.178z"/></svg><svg style="position:absolute;left:1344.5px;top:279.5px" width="12.8" height="12.8" viewBox="0 0 16 16" fill="#1e86ea" ><path d="M12.854.146a.5.5 0 0 0-.707 0L10.5 1.793 14.207 5.5l1.647-1.646a.5.5 0 0 0 0-.708l-3-3zm.646 6.061L9.793 2.5 3.293 9H3.5a.5.5 0 0 1 .5.5v.5h.5a.5.5 0 0 1 .5.5v.5h.5a.5.5 0 0 1 .5.5v.5h.5a.5.5 0 0 1 .5.5v.207l6.5-6.5zm-7.468 7.468A.5.5 0 0 1 6 13.5V13h-.5a.5.5 0 0 1-.5-.5V12h-.5a.5.5 0 0 1-.5-.5V11h-.5a.5.5 0 0 1-.5-.5V10h-.5a.499.499 0 0 1-.175-.032l-.179.178a.5.5 0 0 0-.11.168l-2 5a.5.5 0 0 0 .65.65l5-2a.5.5 0 0 0 .168-.11l.178-.178z"/></svg>
<div class="abs" style="left:152px;top:324px;width:1249px;height:1px;background:#dcdcdc"></div><div class="cb" style="left:176px;top:306px"></div><svg style="position:absolute;left:196px;top:309.3px;overflow:visible" width="10.2" height="5.6" viewBox="0 0 10.2 5.6"><path d="M.5 .5l4.600 4.500L9.700 .5" fill="none" stroke="#333" stroke-width="1.100" stroke-linecap="round" stroke-linejoin="round"/></svg><div class="t" style="left:225.6px;top:308px;font-size:9.7px;color:#1c1c1c;letter-spacing:-0.02px;font-weight:700;">Video - Control, Graphics, Media &amp; Support</div><div class="r" style="right:409.05px;top:307px;font-size:10px;color:#0e0e0e;letter-spacing:-.13px">$159,105....</div><div class="r" style="right:350.45px;top:307px;font-size:10px;color:#0e0e0e;letter-spacing:-.13px">$51,803.35</div><div class="r" style="right:292.35px;top:307px;font-size:10px;color:#0e0e0e;letter-spacing:-.13px">67.4%</div><svg style="position:absolute;left:1308.5px;top:304.5px" width="12.8" height="12.8" viewBox="0 0 16 16" fill="#1e86ea" ><path d="M12.854.146a.5.5 0 0 0-.707 0L10.5 1.793 14.207 5.5l1.647-1.646a.5.5 0 0 0 0-.708l-3-3zm.646 6.061L9.793 2.5 3.293 9H3.5a.5.5 0 0 1 .5.5v.5h.5a.5.5 0 0 1 .5.5v.5h.5a.5.5 0 0 1 .5.5v.5h.5a.5.5 0 0 1 .5.5v.207l6.5-6.5zm-7.468 7.468A.5.5 0 0 1 6 13.5V13h-.5a.5.5 0 0 1-.5-.5V12h-.5a.5.5 0 0 1-.5-.5V11h-.5a.5.5 0 0 1-.5-.5V10h-.5a.499.499 0 0 1-.175-.032l-.179.178a.5.5 0 0 0-.11.168l-2 5a.5.5 0 0 0 .65.65l5-2a.5.5 0 0 0 .168-.11l.178-.178z"/></svg><svg style="position:absolute;left:1344.5px;top:304.5px" width="12.8" height="12.8" viewBox="0 0 16 16" fill="#1e86ea" ><path d="M12.854.146a.5.5 0 0 0-.707 0L10.5 1.793 14.207 5.5l1.647-1.646a.5.5 0 0 0 0-.708l-3-3zm.646 6.061L9.793 2.5 3.293 9H3.5a.5.5 0 0 1 .5.5v.5h.5a.5.5 0 0 1 .5.5v.5h.5a.5.5 0 0 1 .5.5v.5h.5a.5.5 0 0 1 .5.5v.207l6.5-6.5zm-7.468 7.468A.5.5 0 0 1 6 13.5V13h-.5a.5.5 0 0 1-.5-.5V12h-.5a.5.5 0 0 1-.5-.5V11h-.5a.5.5 0 0 1-.5-.5V10h-.5a.499.499 0 0 1-.175-.032l-.179.178a.5.5 0 0 0-.11.168l-2 5a.5.5 0 0 0 .65.65l5-2a.5.5 0 0 0 .168-.11l.178-.178z"/></svg><svg style="position:absolute;left:1376px;top:305.9px;overflow:visible" width="10.1" height="11.2" viewBox="0 0 10.1 11.2"><path d="M3.800 .9a1.250 1.250 0 0 1 2.500 0z" fill="#161616"/><rect x="0" y=".9" width="10.100" height="2" rx=".6" fill="#161616"/><path d="M1.100 3.300h7.900l-.5 6.900a1 1 0 0 1-1 1H2.600a1 1 0 0 1-1-1z" fill="#1c1c1c"/><path d="M3.600 4.500v5.300M6.500 4.500v5.300" stroke="#7d7d7d" stroke-width="1.200"/></svg>
<div class="abs" style="left:152px;top:349px;width:1249px;height:1px;background:#dcdcdc"></div><div class="cb" style="left:176px;top:331px"></div><svg style="position:absolute;left:222px;top:332px;overflow:visible" width="6" height="10" viewBox="0 0 6 10"><path d="M.5 .5l4.800 4.500L.5 9.500" fill="none" stroke="#333" stroke-width="1.100" stroke-linecap="round" stroke-linejoin="round"/></svg><svg style="position:absolute;left:244.2px;top:331.2px;overflow:visible" width="12" height="12" viewBox="0 0 12 12"><rect x=".5" y="2.300" width="10.800" height="9.200" rx="1" fill="#fff" stroke="#c2c2c2" stroke-width=".9"/><circle cx="4.600" cy="1.250" r="1.100" fill="none" stroke="#b2b2b2" stroke-width=".8"/><circle cx="7.200" cy="1.250" r="1.100" fill="none" stroke="#b2b2b2" stroke-width=".8"/><path d="M5.300 2.300v1.800M6.500 2.300v1.800" stroke="#c8c8c8" stroke-width=".6" fill="none"/></svg><div class="t" style="left:263px;top:332px;font-size:10px;color:#0e0e0e;letter-spacing:-0.02px;">55" HD Monitor w/ Floor Stand Package</div><div class="r" style="right:930.35px;top:332px;font-size:10px;color:#0e0e0e;letter-spacing:-.13px">3</div><div class="r" style="right:670.65px;top:332px;font-size:10px;color:#0e0e0e;letter-spacing:-.13px">3</div><div class="r" style="right:613.65px;top:332px;font-size:10px;color:#0e0e0e;letter-spacing:-.13px">$1,090.00</div><div class="r" style="right:553.05px;top:332px;font-size:10px;color:#0e0e0e;letter-spacing:-.13px">3.00</div><div class="r" style="right:495.95px;top:332px;font-size:10px;color:#0e0e0e;letter-spacing:-.13px">$9,810.00</div><div class="r" style="right:464.75px;top:332px;font-size:10px;color:#0e0e0e;letter-spacing:-.13px">0%</div><div class="r" style="right:409.05px;top:332px;font-size:10px;color:#0e0e0e;letter-spacing:-.13px">$9,810.00</div><svg style="position:absolute;left:835px;top:332px;overflow:visible" width="9.5" height="8.5" viewBox="0 0 9.5 8.5"><text x="-.2" y="7.600" font-size="8.600" fill="#707070" stroke="#707070" stroke-width=".25" font-family="Liberation Sans">$</text><path d="M7.300 8.300V2.500" stroke="#707070" stroke-width="1.350"/><path d="M4.900 3.600L7.300 .2l2.400 3.400z" fill="#707070"/></svg><div class="tg" style="left:1156.8px;top:330.8px"><i></i></div><div class="tg" style="left:1192.9px;top:330.8px"><i></i></div><div class="tg" style="left:1228.9px;top:330.8px"><i></i></div><div class="tg on" style="left:1264.9px;top:330.8px"><i></i></div><svg style="position:absolute;left:1308.5px;top:329.5px" width="12.8" height="12.8" viewBox="0 0 16 16" fill="#1e86ea" ><path d="M12.854.146a.5.5 0 0 0-.707 0L10.5 1.793 14.207 5.5l1.647-1.646a.5.5 0 0 0 0-.708l-3-3zm.646 6.061L9.793 2.5 3.293 9H3.5a.5.5 0 0 1 .5.5v.5h.5a.5.5 0 0 1 .5.5v.5h.5a.5.5 0 0 1 .5.5v.5h.5a.5.5 0 0 1 .5.5v.207l6.5-6.5zm-7.468 7.468A.5.5 0 0 1 6 13.5V13h-.5a.5.5 0 0 1-.5-.5V12h-.5a.5.5 0 0 1-.5-.5V11h-.5a.5.5 0 0 1-.5-.5V10h-.5a.499.499 0 0 1-.175-.032l-.179.178a.5.5 0 0 0-.11.168l-2 5a.5.5 0 0 0 .65.65l5-2a.5.5 0 0 0 .168-.11l.178-.178z"/></svg><svg style="position:absolute;left:1344.5px;top:329.5px" width="12.8" height="12.8" viewBox="0 0 16 16" fill="#1e86ea" ><path d="M12.854.146a.5.5 0 0 0-.707 0L10.5 1.793 14.207 5.5l1.647-1.646a.5.5 0 0 0 0-.708l-3-3zm.646 6.061L9.793 2.5 3.293 9H3.5a.5.5 0 0 1 .5.5v.5h.5a.5.5 0 0 1 .5.5v.5h.5a.5.5 0 0 1 .5.5v.5h.5a.5.5 0 0 1 .5.5v.207l6.5-6.5zm-7.468 7.468A.5.5 0 0 1 6 13.5V13h-.5a.5.5 0 0 1-.5-.5V12h-.5a.5.5 0 0 1-.5-.5V11h-.5a.5.5 0 0 1-.5-.5V10h-.5a.499.499 0 0 1-.175-.032l-.179.178a.5.5 0 0 0-.11.168l-2 5a.5.5 0 0 0 .65.65l5-2a.5.5 0 0 0 .168-.11l.178-.178z"/></svg><svg style="position:absolute;left:1376px;top:334.9px;overflow:visible" width="10.1" height="2.3" viewBox="0 0 10.1 2.3"><rect x="0" y="0" width="2.200" height="2.300" rx=".9" fill="#1e86ea"/><rect x="3.950" y="0" width="2.200" height="2.300" rx=".9" fill="#1e86ea"/><rect x="7.900" y="0" width="2.200" height="2.300" rx=".9" fill="#1e86ea"/></svg>
<div class="abs" style="left:152px;top:374px;width:1249px;height:1px;background:#dcdcdc"></div><div class="cb" style="left:176px;top:356px"></div><svg style="position:absolute;left:222px;top:357px;overflow:visible" width="6" height="10" viewBox="0 0 6 10"><path d="M.5 .5l4.800 4.500L.5 9.500" fill="none" stroke="#333" stroke-width="1.100" stroke-linecap="round" stroke-linejoin="round"/></svg><svg style="position:absolute;left:244.2px;top:356.2px;overflow:visible" width="12" height="12" viewBox="0 0 12 12"><rect x=".5" y="2.300" width="10.800" height="9.200" rx="1" fill="#fff" stroke="#c2c2c2" stroke-width=".9"/><circle cx="4.600" cy="1.250" r="1.100" fill="none" stroke="#b2b2b2" stroke-width=".8"/><circle cx="7.200" cy="1.250" r="1.100" fill="none" stroke="#b2b2b2" stroke-width=".8"/><path d="M5.300 2.300v1.800M6.500 2.300v1.800" stroke="#c8c8c8" stroke-width=".6" fill="none"/></svg><div class="t" style="left:263px;top:357px;font-size:10px;color:#0e0e0e;letter-spacing:-0.22px;">Pandoras Box Media Server Package</div><div class="r" style="right:930.35px;top:357px;font-size:10px;color:#0e0e0e;letter-spacing:-.13px">1</div><div class="r" style="right:670.65px;top:357px;font-size:10px;color:#0e0e0e;letter-spacing:-.13px">1</div><div class="r" style="right:613.65px;top:357px;font-size:10px;color:#0e0e0e;letter-spacing:-.13px">$16,405.00</div><div class="r" style="right:553.05px;top:357px;font-size:10px;color:#0e0e0e;letter-spacing:-.13px">3.00</div><div class="r" style="right:495.95px;top:357px;font-size:10px;color:#0e0e0e;letter-spacing:-.13px">$49,215.00</div><div class="r" style="right:464.75px;top:357px;font-size:10px;color:#0e0e0e;letter-spacing:-.13px">0%</div><div class="r" style="right:409.05px;top:357px;font-size:10px;color:#0e0e0e;letter-spacing:-.13px">$49,215.00</div><svg style="position:absolute;left:835px;top:357px;overflow:visible" width="9.5" height="8.5" viewBox="0 0 9.5 8.5"><text x="-.2" y="7.600" font-size="8.600" fill="#707070" stroke="#707070" stroke-width=".25" font-family="Liberation Sans">$</text><path d="M7.300 8.300V2.500" stroke="#707070" stroke-width="1.350"/><path d="M4.900 3.600L7.300 .2l2.400 3.400z" fill="#707070"/></svg><div class="tg" style="left:1156.8px;top:355.8px"><i></i></div><div class="tg" style="left:1192.9px;top:355.8px"><i></i></div><div class="tg" style="left:1228.9px;top:355.8px"><i></i></div><div class="tg on" style="left:1264.9px;top:355.8px"><i></i></div><svg style="position:absolute;left:1308.5px;top:354.5px" width="12.8" height="12.8" viewBox="0 0 16 16" fill="#1e86ea" ><path d="M12.854.146a.5.5 0 0 0-.707 0L10.5 1.793 14.207 5.5l1.647-1.646a.5.5 0 0 0 0-.708l-3-3zm.646 6.061L9.793 2.5 3.293 9H3.5a.5.5 0 0 1 .5.5v.5h.5a.5.5 0 0 1 .5.5v.5h.5a.5.5 0 0 1 .5.5v.5h.5a.5.5 0 0 1 .5.5v.207l6.5-6.5zm-7.468 7.468A.5.5 0 0 1 6 13.5V13h-.5a.5.5 0 0 1-.5-.5V12h-.5a.5.5 0 0 1-.5-.5V11h-.5a.5.5 0 0 1-.5-.5V10h-.5a.499.499 0 0 1-.175-.032l-.179.178a.5.5 0 0 0-.11.168l-2 5a.5.5 0 0 0 .65.65l5-2a.5.5 0 0 0 .168-.11l.178-.178z"/></svg><svg style="position:absolute;left:1344.5px;top:354.5px" width="12.8" height="12.8" viewBox="0 0 16 16" fill="#1e86ea" ><path d="M12.854.146a.5.5 0 0 0-.707 0L10.5 1.793 14.207 5.5l1.647-1.646a.5.5 0 0 0 0-.708l-3-3zm.646 6.061L9.793 2.5 3.293 9H3.5a.5.5 0 0 1 .5.5v.5h.5a.5.5 0 0 1 .5.5v.5h.5a.5.5 0 0 1 .5.5v.5h.5a.5.5 0 0 1 .5.5v.207l6.5-6.5zm-7.468 7.468A.5.5 0 0 1 6 13.5V13h-.5a.5.5 0 0 1-.5-.5V12h-.5a.5.5 0 0 1-.5-.5V11h-.5a.5.5 0 0 1-.5-.5V10h-.5a.499.499 0 0 1-.175-.032l-.179.178a.5.5 0 0 0-.11.168l-2 5a.5.5 0 0 0 .65.65l5-2a.5.5 0 0 0 .168-.11l.178-.178z"/></svg><svg style="position:absolute;left:1376px;top:359.9px;overflow:visible" width="10.1" height="2.3" viewBox="0 0 10.1 2.3"><rect x="0" y="0" width="2.200" height="2.300" rx=".9" fill="#1e86ea"/><rect x="3.950" y="0" width="2.200" height="2.300" rx=".9" fill="#1e86ea"/><rect x="7.900" y="0" width="2.200" height="2.300" rx=".9" fill="#1e86ea"/></svg>
<div class="abs" style="left:152px;top:399px;width:1249px;height:1px;background:#dcdcdc"></div><div class="cb" style="left:176px;top:381px"></div><svg style="position:absolute;left:222px;top:382px;overflow:visible" width="6" height="10" viewBox="0 0 6 10"><path d="M.5 .5l4.800 4.500L.5 9.500" fill="none" stroke="#333" stroke-width="1.100" stroke-linecap="round" stroke-linejoin="round"/></svg><svg style="position:absolute;left:244.2px;top:381.2px;overflow:visible" width="12" height="12" viewBox="0 0 12 12"><rect x=".5" y="2.300" width="10.800" height="9.200" rx="1" fill="#fff" stroke="#c2c2c2" stroke-width=".9"/><circle cx="4.600" cy="1.250" r="1.100" fill="none" stroke="#b2b2b2" stroke-width=".8"/><circle cx="7.200" cy="1.250" r="1.100" fill="none" stroke="#b2b2b2" stroke-width=".8"/><path d="M5.300 2.300v1.800M6.500 2.300v1.800" stroke="#c8c8c8" stroke-width=".6" fill="none"/></svg><div class="t" style="left:263px;top:382px;font-size:10px;color:#0e0e0e;letter-spacing:-0.21px;">MacBook Pro - Graphics Package</div><div class="r" style="right:930.35px;top:382px;font-size:10px;color:#0e0e0e;letter-spacing:-.13px">2</div><div class="r" style="right:670.65px;top:382px;font-size:10px;color:#0e0e0e;letter-spacing:-.13px">2</div><div class="r" style="right:613.65px;top:382px;font-size:10px;color:#0e0e0e;letter-spacing:-.13px">$705.00</div><div class="r" style="right:553.05px;top:382px;font-size:10px;color:#0e0e0e;letter-spacing:-.13px">3.00</div><div class="r" style="right:495.95px;top:382px;font-size:10px;color:#0e0e0e;letter-spacing:-.13px">$4,230.00</div><div class="r" style="right:464.75px;top:382px;font-size:10px;color:#0e0e0e;letter-spacing:-.13px">0%</div><div class="r" style="right:409.05px;top:382px;font-size:10px;color:#0e0e0e;letter-spacing:-.13px">$4,230.00</div><svg style="position:absolute;left:835px;top:382px;overflow:visible" width="9.5" height="8.5" viewBox="0 0 9.5 8.5"><text x="-.2" y="7.600" font-size="8.600" fill="#707070" stroke="#707070" stroke-width=".25" font-family="Liberation Sans">$</text><path d="M7.300 8.300V2.500" stroke="#707070" stroke-width="1.350"/><path d="M4.900 3.600L7.300 .2l2.400 3.400z" fill="#707070"/></svg><div class="tg" style="left:1156.8px;top:380.8px"><i></i></div><div class="tg" style="left:1192.9px;top:380.8px"><i></i></div><div class="tg" style="left:1228.9px;top:380.8px"><i></i></div><div class="tg on" style="left:1264.9px;top:380.8px"><i></i></div><svg style="position:absolute;left:1308.5px;top:379.5px" width="12.8" height="12.8" viewBox="0 0 16 16" fill="#1e86ea" ><path d="M12.854.146a.5.5 0 0 0-.707 0L10.5 1.793 14.207 5.5l1.647-1.646a.5.5 0 0 0 0-.708l-3-3zm.646 6.061L9.793 2.5 3.293 9H3.5a.5.5 0 0 1 .5.5v.5h.5a.5.5 0 0 1 .5.5v.5h.5a.5.5 0 0 1 .5.5v.5h.5a.5.5 0 0 1 .5.5v.207l6.5-6.5zm-7.468 7.468A.5.5 0 0 1 6 13.5V13h-.5a.5.5 0 0 1-.5-.5V12h-.5a.5.5 0 0 1-.5-.5V11h-.5a.5.5 0 0 1-.5-.5V10h-.5a.499.499 0 0 1-.175-.032l-.179.178a.5.5 0 0 0-.11.168l-2 5a.5.5 0 0 0 .65.65l5-2a.5.5 0 0 0 .168-.11l.178-.178z"/></svg><svg style="position:absolute;left:1344.5px;top:379.5px" width="12.8" height="12.8" viewBox="0 0 16 16" fill="#1e86ea" ><path d="M12.854.146a.5.5 0 0 0-.707 0L10.5 1.793 14.207 5.5l1.647-1.646a.5.5 0 0 0 0-.708l-3-3zm.646 6.061L9.793 2.5 3.293 9H3.5a.5.5 0 0 1 .5.5v.5h.5a.5.5 0 0 1 .5.5v.5h.5a.5.5 0 0 1 .5.5v.5h.5a.5.5 0 0 1 .5.5v.207l6.5-6.5zm-7.468 7.468A.5.5 0 0 1 6 13.5V13h-.5a.5.5 0 0 1-.5-.5V12h-.5a.5.5 0 0 1-.5-.5V11h-.5a.5.5 0 0 1-.5-.5V10h-.5a.499.499 0 0 1-.175-.032l-.179.178a.5.5 0 0 0-.11.168l-2 5a.5.5 0 0 0 .65.65l5-2a.5.5 0 0 0 .168-.11l.178-.178z"/></svg><svg style="position:absolute;left:1376px;top:384.9px;overflow:visible" width="10.1" height="2.3" viewBox="0 0 10.1 2.3"><rect x="0" y="0" width="2.200" height="2.300" rx=".9" fill="#1e86ea"/><rect x="3.950" y="0" width="2.200" height="2.300" rx=".9" fill="#1e86ea"/><rect x="7.900" y="0" width="2.200" height="2.300" rx=".9" fill="#1e86ea"/></svg>
<div class="abs" style="left:152px;top:424px;width:1249px;height:1px;background:#dcdcdc"></div><div class="cb" style="left:176px;top:406px"></div><svg style="position:absolute;left:222px;top:407px;overflow:visible" width="6" height="10" viewBox="0 0 6 10"><path d="M.5 .5l4.800 4.500L.5 9.500" fill="none" stroke="#333" stroke-width="1.100" stroke-linecap="round" stroke-linejoin="round"/></svg><svg style="position:absolute;left:244.2px;top:406.2px" width="12" height="12" viewBox="0 0 12 12"><rect x=".5" y=".5" width="11" height="2.300" fill="#fff" stroke="#c4c4c4" stroke-width=".8"/><rect x="1" y="3.300" width="10" height="8.200" fill="#c9c9c9"/><rect x="4.300" y="6.300" width="3.400" height="3" fill="#fff"/><path d="M5 6.300v-.8a1 1 0 0 1 2 0v.8" stroke="#fff" stroke-width=".7" fill="none"/></svg><div class="t" style="left:263px;top:407px;font-size:10px;color:#0e0e0e;letter-spacing:-0.26px;">Spyder X80 Package</div><div class="r" style="right:930.35px;top:407px;font-size:10px;color:#0e0e0e;letter-spacing:-.13px">1</div><div class="r" style="right:875.65px;top:407px;font-size:10px;color:#0e0e0e;letter-spacing:-.13px">9</div><div class="r" style="right:830.65px;top:407px;font-size:10px;color:#0e0e0e;letter-spacing:-.13px">3</div><div class="r" style="right:774.05px;top:407px;font-size:10px;color:#0e0e0e;letter-spacing:-.13px">1</div><div class="r" style="right:715.65px;top:407px;font-size:10px;color:#0e0e0e;letter-spacing:-.13px">0</div><div class="r" style="right:670.65px;top:407px;font-size:10px;color:#0e0e0e;letter-spacing:-.13px">1</div><div class="r" style="right:613.65px;top:407px;font-size:10px;color:#0e0e0e;letter-spacing:-.13px">$16,800.00</div><div class="r" style="right:553.05px;top:407px;font-size:10px;color:#0e0e0e;letter-spacing:-.13px">3.00</div><div class="r" style="right:495.95px;top:407px;font-size:10px;color:#0e0e0e;letter-spacing:-.13px">$50,400.00</div><div class="r" style="right:464.75px;top:407px;font-size:10px;color:#0e0e0e;letter-spacing:-.13px">0%</div><div class="r" style="right:409.05px;top:407px;font-size:10px;color:#0e0e0e;letter-spacing:-.13px">$50,400.00</div><svg style="position:absolute;left:835px;top:407px;overflow:visible" width="9.5" height="8.5" viewBox="0 0 9.5 8.5"><text x="-.2" y="7.600" font-size="8.600" fill="#707070" stroke="#707070" stroke-width=".25" font-family="Liberation Sans">$</text><path d="M7.300 8.300V2.500" stroke="#707070" stroke-width="1.350"/><path d="M4.900 3.600L7.300 .2l2.400 3.400z" fill="#707070"/></svg><div class="tg" style="left:1156.8px;top:405.8px"><i></i></div><div class="tg" style="left:1192.9px;top:405.8px"><i></i></div><div class="tg" style="left:1228.9px;top:405.8px"><i></i></div><div class="tg on" style="left:1264.9px;top:405.8px"><i></i></div><svg style="position:absolute;left:1308.5px;top:404.5px" width="12.8" height="12.8" viewBox="0 0 16 16" fill="#1e86ea" ><path d="M12.854.146a.5.5 0 0 0-.707 0L10.5 1.793 14.207 5.5l1.647-1.646a.5.5 0 0 0 0-.708l-3-3zm.646 6.061L9.793 2.5 3.293 9H3.5a.5.5 0 0 1 .5.5v.5h.5a.5.5 0 0 1 .5.5v.5h.5a.5.5 0 0 1 .5.5v.5h.5a.5.5 0 0 1 .5.5v.207l6.5-6.5zm-7.468 7.468A.5.5 0 0 1 6 13.5V13h-.5a.5.5 0 0 1-.5-.5V12h-.5a.5.5 0 0 1-.5-.5V11h-.5a.5.5 0 0 1-.5-.5V10h-.5a.499.499 0 0 1-.175-.032l-.179.178a.5.5 0 0 0-.11.168l-2 5a.5.5 0 0 0 .65.65l5-2a.5.5 0 0 0 .168-.11l.178-.178z"/></svg><svg style="position:absolute;left:1344.5px;top:404.5px" width="12.8" height="12.8" viewBox="0 0 16 16" fill="#1e86ea" ><path d="M12.854.146a.5.5 0 0 0-.707 0L10.5 1.793 14.207 5.5l1.647-1.646a.5.5 0 0 0 0-.708l-3-3zm.646 6.061L9.793 2.5 3.293 9H3.5a.5.5 0 0 1 .5.5v.5h.5a.5.5 0 0 1 .5.5v.5h.5a.5.5 0 0 1 .5.5v.5h.5a.5.5 0 0 1 .5.5v.207l6.5-6.5zm-7.468 7.468A.5.5 0 0 1 6 13.5V13h-.5a.5.5 0 0 1-.5-.5V12h-.5a.5.5 0 0 1-.5-.5V11h-.5a.5.5 0 0 1-.5-.5V10h-.5a.499.499 0 0 1-.175-.032l-.179.178a.5.5 0 0 0-.11.168l-2 5a.5.5 0 0 0 .65.65l5-2a.5.5 0 0 0 .168-.11l.178-.178z"/></svg><svg style="position:absolute;left:1376px;top:409.9px;overflow:visible" width="10.1" height="2.3" viewBox="0 0 10.1 2.3"><rect x="0" y="0" width="2.200" height="2.300" rx=".9" fill="#1e86ea"/><rect x="3.950" y="0" width="2.200" height="2.300" rx=".9" fill="#1e86ea"/><rect x="7.900" y="0" width="2.200" height="2.300" rx=".9" fill="#1e86ea"/></svg>
<div class="abs" style="left:152px;top:449px;width:1249px;height:1px;background:#dcdcdc"></div><div class="cb" style="left:176px;top:431px"></div><svg style="position:absolute;left:222px;top:432px;overflow:visible" width="6" height="10" viewBox="0 0 6 10"><path d="M.5 .5l4.800 4.500L.5 9.500" fill="none" stroke="#333" stroke-width="1.100" stroke-linecap="round" stroke-linejoin="round"/></svg><svg style="position:absolute;left:244.2px;top:431.2px;overflow:visible" width="12" height="12" viewBox="0 0 12 12"><rect x=".5" y="2.300" width="10.800" height="9.200" rx="1" fill="#fff" stroke="#c2c2c2" stroke-width=".9"/><circle cx="4.600" cy="1.250" r="1.100" fill="none" stroke="#b2b2b2" stroke-width=".8"/><circle cx="7.200" cy="1.250" r="1.100" fill="none" stroke="#b2b2b2" stroke-width=".8"/><path d="M5.300 2.300v1.800M6.500 2.300v1.800" stroke="#c8c8c8" stroke-width=".6" fill="none"/></svg><div class="t" style="left:263px;top:432px;font-size:10px;color:#0e0e0e;letter-spacing:-0.23px;">MacBook Pro - Playback Pro Package</div><div class="r" style="right:930.35px;top:432px;font-size:10px;color:#0e0e0e;letter-spacing:-.13px">2</div><div class="r" style="right:670.65px;top:432px;font-size:10px;color:#0e0e0e;letter-spacing:-.13px">2</div><div class="r" style="right:613.65px;top:432px;font-size:10px;color:#0e0e0e;letter-spacing:-.13px">$705.00</div><div class="r" style="right:553.05px;top:432px;font-size:10px;color:#0e0e0e;letter-spacing:-.13px">3.00</div><div class="r" style="right:495.95px;top:432px;font-size:10px;color:#0e0e0e;letter-spacing:-.13px">$4,230.00</div><div class="r" style="right:464.75px;top:432px;font-size:10px;color:#0e0e0e;letter-spacing:-.13px">0%</div><div class="r" style="right:409.05px;top:432px;font-size:10px;color:#0e0e0e;letter-spacing:-.13px">$4,230.00</div><svg style="position:absolute;left:835px;top:432px;overflow:visible" width="9.5" height="8.5" viewBox="0 0 9.5 8.5"><text x="-.2" y="7.600" font-size="8.600" fill="#707070" stroke="#707070" stroke-width=".25" font-family="Liberation Sans">$</text><path d="M7.300 8.300V2.500" stroke="#707070" stroke-width="1.350"/><path d="M4.900 3.600L7.300 .2l2.400 3.400z" fill="#707070"/></svg><div class="tg" style="left:1156.8px;top:430.8px"><i></i></div><div class="tg" style="left:1192.9px;top:430.8px"><i></i></div><div class="tg" style="left:1228.9px;top:430.8px"><i></i></div><div class="tg on" style="left:1264.9px;top:430.8px"><i></i></div><svg style="position:absolute;left:1308.5px;top:429.5px" width="12.8" height="12.8" viewBox="0 0 16 16" fill="#1e86ea" ><path d="M12.854.146a.5.5 0 0 0-.707 0L10.5 1.793 14.207 5.5l1.647-1.646a.5.5 0 0 0 0-.708l-3-3zm.646 6.061L9.793 2.5 3.293 9H3.5a.5.5 0 0 1 .5.5v.5h.5a.5.5 0 0 1 .5.5v.5h.5a.5.5 0 0 1 .5.5v.5h.5a.5.5 0 0 1 .5.5v.207l6.5-6.5zm-7.468 7.468A.5.5 0 0 1 6 13.5V13h-.5a.5.5 0 0 1-.5-.5V12h-.5a.5.5 0 0 1-.5-.5V11h-.5a.5.5 0 0 1-.5-.5V10h-.5a.499.499 0 0 1-.175-.032l-.179.178a.5.5 0 0 0-.11.168l-2 5a.5.5 0 0 0 .65.65l5-2a.5.5 0 0 0 .168-.11l.178-.178z"/></svg><svg style="position:absolute;left:1344.5px;top:429.5px" width="12.8" height="12.8" viewBox="0 0 16 16" fill="#1e86ea" ><path d="M12.854.146a.5.5 0 0 0-.707 0L10.5 1.793 14.207 5.5l1.647-1.646a.5.5 0 0 0 0-.708l-3-3zm.646 6.061L9.793 2.5 3.293 9H3.5a.5.5 0 0 1 .5.5v.5h.5a.5.5 0 0 1 .5.5v.5h.5a.5.5 0 0 1 .5.5v.5h.5a.5.5 0 0 1 .5.5v.207l6.5-6.5zm-7.468 7.468A.5.5 0 0 1 6 13.5V13h-.5a.5.5 0 0 1-.5-.5V12h-.5a.5.5 0 0 1-.5-.5V11h-.5a.5.5 0 0 1-.5-.5V10h-.5a.499.499 0 0 1-.175-.032l-.179.178a.5.5 0 0 0-.11.168l-2 5a.5.5 0 0 0 .65.65l5-2a.5.5 0 0 0 .168-.11l.178-.178z"/></svg><svg style="position:absolute;left:1376px;top:434.9px;overflow:visible" width="10.1" height="2.3" viewBox="0 0 10.1 2.3"><rect x="0" y="0" width="2.200" height="2.300" rx=".9" fill="#1e86ea"/><rect x="3.950" y="0" width="2.200" height="2.300" rx=".9" fill="#1e86ea"/><rect x="7.900" y="0" width="2.200" height="2.300" rx=".9" fill="#1e86ea"/></svg>
<div class="abs" style="left:152px;top:474px;width:1249px;height:1px;background:#dcdcdc"></div><div class="cb" style="left:176px;top:456px"></div><svg style="position:absolute;left:222px;top:457px;overflow:visible" width="6" height="10" viewBox="0 0 6 10"><path d="M.5 .5l4.800 4.500L.5 9.500" fill="none" stroke="#333" stroke-width="1.100" stroke-linecap="round" stroke-linejoin="round"/></svg><svg style="position:absolute;left:244.2px;top:456.2px;overflow:visible" width="12" height="12" viewBox="0 0 12 12"><rect x=".5" y="2.300" width="10.800" height="9.200" rx="1" fill="#fff" stroke="#c2c2c2" stroke-width=".9"/><circle cx="4.600" cy="1.250" r="1.100" fill="none" stroke="#b2b2b2" stroke-width=".8"/><circle cx="7.200" cy="1.250" r="1.100" fill="none" stroke="#b2b2b2" stroke-width=".8"/><path d="M5.300 2.300v1.800M6.500 2.300v1.800" stroke="#c8c8c8" stroke-width=".6" fill="none"/></svg><div class="t" style="left:263px;top:457px;font-size:10px;color:#0e0e0e;letter-spacing:-0.06px;">Confidence Monitor Package - 55" DSM</div><div class="r" style="right:930.35px;top:457px;font-size:10px;color:#0e0e0e;letter-spacing:-.13px">1</div><div class="r" style="right:670.65px;top:457px;font-size:10px;color:#0e0e0e;letter-spacing:-.13px">1</div><div class="r" style="right:613.65px;top:457px;font-size:10px;color:#0e0e0e;letter-spacing:-.13px">$935.00</div><div class="r" style="right:553.05px;top:457px;font-size:10px;color:#0e0e0e;letter-spacing:-.13px">3.00</div><div class="r" style="right:495.95px;top:457px;font-size:10px;color:#0e0e0e;letter-spacing:-.13px">$2,805.00</div><div class="r" style="right:464.75px;top:457px;font-size:10px;color:#0e0e0e;letter-spacing:-.13px">0%</div><div class="r" style="right:409.05px;top:457px;font-size:10px;color:#0e0e0e;letter-spacing:-.13px">$2,805.00</div><svg style="position:absolute;left:835px;top:457px;overflow:visible" width="9.5" height="8.5" viewBox="0 0 9.5 8.5"><text x="-.2" y="7.600" font-size="8.600" fill="#707070" stroke="#707070" stroke-width=".25" font-family="Liberation Sans">$</text><path d="M7.300 8.300V2.500" stroke="#707070" stroke-width="1.350"/><path d="M4.900 3.600L7.300 .2l2.400 3.400z" fill="#707070"/></svg><div class="tg" style="left:1156.8px;top:455.8px"><i></i></div><div class="tg" style="left:1192.9px;top:455.8px"><i></i></div><div class="tg" style="left:1228.9px;top:455.8px"><i></i></div><div class="tg on" style="left:1264.9px;top:455.8px"><i></i></div><svg style="position:absolute;left:1308.5px;top:454.5px" width="12.8" height="12.8" viewBox="0 0 16 16" fill="#1e86ea" ><path d="M12.854.146a.5.5 0 0 0-.707 0L10.5 1.793 14.207 5.5l1.647-1.646a.5.5 0 0 0 0-.708l-3-3zm.646 6.061L9.793 2.5 3.293 9H3.5a.5.5 0 0 1 .5.5v.5h.5a.5.5 0 0 1 .5.5v.5h.5a.5.5 0 0 1 .5.5v.5h.5a.5.5 0 0 1 .5.5v.207l6.5-6.5zm-7.468 7.468A.5.5 0 0 1 6 13.5V13h-.5a.5.5 0 0 1-.5-.5V12h-.5a.5.5 0 0 1-.5-.5V11h-.5a.5.5 0 0 1-.5-.5V10h-.5a.499.499 0 0 1-.175-.032l-.179.178a.5.5 0 0 0-.11.168l-2 5a.5.5 0 0 0 .65.65l5-2a.5.5 0 0 0 .168-.11l.178-.178z"/></svg><svg style="position:absolute;left:1344.5px;top:454.5px" width="12.8" height="12.8" viewBox="0 0 16 16" fill="#1e86ea" ><path d="M12.854.146a.5.5 0 0 0-.707 0L10.5 1.793 14.207 5.5l1.647-1.646a.5.5 0 0 0 0-.708l-3-3zm.646 6.061L9.793 2.5 3.293 9H3.5a.5.5 0 0 1 .5.5v.5h.5a.5.5 0 0 1 .5.5v.5h.5a.5.5 0 0 1 .5.5v.5h.5a.5.5 0 0 1 .5.5v.207l6.5-6.5zm-7.468 7.468A.5.5 0 0 1 6 13.5V13h-.5a.5.5 0 0 1-.5-.5V12h-.5a.5.5 0 0 1-.5-.5V11h-.5a.5.5 0 0 1-.5-.5V10h-.5a.499.499 0 0 1-.175-.032l-.179.178a.5.5 0 0 0-.11.168l-2 5a.5.5 0 0 0 .65.65l5-2a.5.5 0 0 0 .168-.11l.178-.178z"/></svg><svg style="position:absolute;left:1376px;top:459.9px;overflow:visible" width="10.1" height="2.3" viewBox="0 0 10.1 2.3"><rect x="0" y="0" width="2.200" height="2.300" rx=".9" fill="#1e86ea"/><rect x="3.950" y="0" width="2.200" height="2.300" rx=".9" fill="#1e86ea"/><rect x="7.900" y="0" width="2.200" height="2.300" rx=".9" fill="#1e86ea"/></svg>
<div class="abs" style="left:152px;top:504px;width:1249px;height:1px;background:#dcdcdc"></div><div class="cb" style="left:176px;top:483px"></div><svg style="position:absolute;left:222px;top:484px;overflow:visible" width="6" height="10" viewBox="0 0 6 10"><path d="M.5 .5l4.800 4.500L.5 9.500" fill="none" stroke="#333" stroke-width="1.100" stroke-linecap="round" stroke-linejoin="round"/></svg><svg style="position:absolute;left:244.2px;top:483.2px" width="11.800" height="11.800" viewBox="0 0 11.800 11.800"><rect width="11.800" height="11.800" rx="2" fill="#c8c8c8"/><path d="M4.300 7.900V3.900L7.500 7.900V3.900" fill="none" stroke="#fff" stroke-width=".85" stroke-linejoin="miter" opacity=".92"/></svg><div class="t" style="left:263px;top:477px;font-size:10px;color:#0e0e0e;letter-spacing:-0.05px;">Laptop, Lenovo ThinkPad P15 15.6""</div><div class="t" style="left:263px;top:491px;font-size:9.5px;color:#0e0e0e;letter-spacing:-0.46px;">(PPT)</div><div class="abs" style="left:440.400px;top:487.9px;width:11.300px;height:1px;background:#9a9a9a"></div><div class="abs" style="left:445.500px;top:482.8px;width:1px;height:11.300px;background:#9a9a9a"></div><div class="r" style="right:930.35px;top:484px;font-size:10px;color:#0e0e0e;letter-spacing:-.13px">4</div><div class="r" style="right:875.65px;top:484px;font-size:10px;color:#0e0e0e;letter-spacing:-.13px">56</div><div class="r" style="right:830.65px;top:484px;font-size:10px;color:#0e0e0e;letter-spacing:-.13px">20</div><div class="r" style="right:774.05px;top:484px;font-size:10px;color:#0e0e0e;letter-spacing:-.13px">4</div><div class="r" style="right:715.65px;top:484px;font-size:10px;color:#0e0e0e;letter-spacing:-.13px">0</div><div class="r" style="right:670.65px;top:484px;font-size:10px;color:#0e0e0e;letter-spacing:-.13px">4</div><div class="r" style="right:613.65px;top:484px;font-size:10px;color:#0e0e0e;letter-spacing:-.13px">$350.00</div><div class="r" style="right:553.05px;top:484px;font-size:10px;color:#0e0e0e;letter-spacing:-.13px">3.00</div><div class="r" style="right:495.95px;top:484px;font-size:10px;color:#0e0e0e;letter-spacing:-.13px">$4,200.00</div><div class="r" style="right:464.75px;top:484px;font-size:10px;color:#0e0e0e;letter-spacing:-.13px">0%</div><div class="r" style="right:409.05px;top:484px;font-size:10px;color:#0e0e0e;letter-spacing:-.13px">$4,200.00</div><div class="r" style="right:350.45px;top:484px;font-size:10px;color:#0e0e0e;letter-spacing:-.13px">$3,000.00</div><div class="r" style="right:292.35px;top:484px;font-size:10px;color:#0e0e0e;letter-spacing:-.13px">28.6%</div><div class="tg" style="left:1156.8px;top:482.8px"><i></i></div><div class="tg" style="left:1192.9px;top:482.8px"><i></i></div><div class="tg" style="left:1228.9px;top:482.8px"><i></i></div><div class="tg on" style="left:1264.9px;top:482.8px"><i></i></div><svg style="position:absolute;left:1308.9px;top:482.2px" width="11.4" height="11.4" viewBox="0 0 16 16" fill="#1e86ea" ><path d="M2.5 1A1.5 1.5 0 0 0 1 2.5v11A1.5 1.5 0 0 0 2.5 15h6.086a1.5 1.5 0 0 0 1.06-.44l4.915-4.914A1.5 1.5 0 0 0 15 8.586V2.5A1.5 1.5 0 0 0 13.5 1h-11zm6 8.5a1 1 0 0 1 1-1h4.396a.25.25 0 0 1 .177.427l-5.146 5.146a.25.25 0 0 1-.427-.177V9.5z"/></svg><svg style="position:absolute;left:1344.5px;top:481.5px" width="12.8" height="12.8" viewBox="0 0 16 16" fill="#1e86ea" ><path d="M12.854.146a.5.5 0 0 0-.707 0L10.5 1.793 14.207 5.5l1.647-1.646a.5.5 0 0 0 0-.708l-3-3zm.646 6.061L9.793 2.5 3.293 9H3.5a.5.5 0 0 1 .5.5v.5h.5a.5.5 0 0 1 .5.5v.5h.5a.5.5 0 0 1 .5.5v.5h.5a.5.5 0 0 1 .5.5v.207l6.5-6.5zm-7.468 7.468A.5.5 0 0 1 6 13.5V13h-.5a.5.5 0 0 1-.5-.5V12h-.5a.5.5 0 0 1-.5-.5V11h-.5a.5.5 0 0 1-.5-.5V10h-.5a.499.499 0 0 1-.175-.032l-.179.178a.5.5 0 0 0-.11.168l-2 5a.5.5 0 0 0 .65.65l5-2a.5.5 0 0 0 .168-.11l.178-.178z"/></svg><svg style="position:absolute;left:1376px;top:486.9px;overflow:visible" width="10.1" height="2.3" viewBox="0 0 10.1 2.3"><rect x="0" y="0" width="2.200" height="2.300" rx=".9" fill="#1e86ea"/><rect x="3.950" y="0" width="2.200" height="2.300" rx=".9" fill="#1e86ea"/><rect x="7.900" y="0" width="2.200" height="2.300" rx=".9" fill="#1e86ea"/></svg>
<div class="abs" style="left:152px;top:529px;width:1249px;height:1px;background:#dcdcdc"></div><div class="cb" style="left:176px;top:511px"></div><svg style="position:absolute;left:222px;top:512px;overflow:visible" width="6" height="10" viewBox="0 0 6 10"><path d="M.5 .5l4.800 4.500L.5 9.500" fill="none" stroke="#333" stroke-width="1.100" stroke-linecap="round" stroke-linejoin="round"/></svg><svg style="position:absolute;left:244.2px;top:511.2px" width="12" height="12" viewBox="0 0 12 12"><rect x=".5" y=".5" width="11" height="2.300" fill="#fff" stroke="#c4c4c4" stroke-width=".8"/><rect x="1" y="3.300" width="10" height="8.200" fill="#c9c9c9"/><rect x="4.300" y="6.300" width="3.400" height="3" fill="#fff"/><path d="M5 6.300v-.8a1 1 0 0 1 2 0v.8" stroke="#fff" stroke-width=".7" fill="none"/></svg><div class="t" style="left:263px;top:512px;font-size:10px;color:#0e0e0e;letter-spacing:0.01px;">Teleprompter Operator Package</div><div class="r" style="right:930.35px;top:512px;font-size:10px;color:#0e0e0e;letter-spacing:-.13px">1</div><div class="r" style="right:875.65px;top:512px;font-size:10px;color:#0e0e0e;letter-spacing:-.13px">12</div><div class="r" style="right:830.65px;top:512px;font-size:10px;color:#0e0e0e;letter-spacing:-.13px">5</div><div class="r" style="right:774.05px;top:512px;font-size:10px;color:#0e0e0e;letter-spacing:-.13px">1</div><div class="r" style="right:715.65px;top:512px;font-size:10px;color:#0e0e0e;letter-spacing:-.13px">0</div><div class="r" style="right:670.65px;top:512px;font-size:10px;color:#0e0e0e;letter-spacing:-.13px">1</div><div class="r" style="right:613.65px;top:512px;font-size:10px;color:#0e0e0e;letter-spacing:-.13px">$1,160.00</div><div class="r" style="right:553.05px;top:512px;font-size:10px;color:#0e0e0e;letter-spacing:-.13px">3.00</div><div class="r" style="right:495.95px;top:512px;font-size:10px;color:#0e0e0e;letter-spacing:-.13px">$3,480.00</div><div class="r" style="right:464.75px;top:512px;font-size:10px;color:#0e0e0e;letter-spacing:-.13px">0%</div><div class="r" style="right:409.05px;top:512px;font-size:10px;color:#0e0e0e;letter-spacing:-.13px">$3,480.00</div><svg style="position:absolute;left:835px;top:512px;overflow:visible" width="9.5" height="8.5" viewBox="0 0 9.5 8.5"><text x="-.2" y="7.600" font-size="8.600" fill="#707070" stroke="#707070" stroke-width=".25" font-family="Liberation Sans">$</text><path d="M7.300 8.300V2.500" stroke="#707070" stroke-width="1.350"/><path d="M4.900 3.600L7.300 .2l2.400 3.400z" fill="#707070"/></svg><div class="tg" style="left:1156.8px;top:510.8px"><i></i></div><div class="tg" style="left:1192.9px;top:510.8px"><i></i></div><div class="tg" style="left:1228.9px;top:510.8px"><i></i></div><div class="tg on" style="left:1264.9px;top:510.8px"><i></i></div><svg style="position:absolute;left:1308.5px;top:509.5px" width="12.8" height="12.8" viewBox="0 0 16 16" fill="#1e86ea" ><path d="M12.854.146a.5.5 0 0 0-.707 0L10.5 1.793 14.207 5.5l1.647-1.646a.5.5 0 0 0 0-.708l-3-3zm.646 6.061L9.793 2.5 3.293 9H3.5a.5.5 0 0 1 .5.5v.5h.5a.5.5 0 0 1 .5.5v.5h.5a.5.5 0 0 1 .5.5v.5h.5a.5.5 0 0 1 .5.5v.207l6.5-6.5zm-7.468 7.468A.5.5 0 0 1 6 13.5V13h-.5a.5.5 0 0 1-.5-.5V12h-.5a.5.5 0 0 1-.5-.5V11h-.5a.5.5 0 0 1-.5-.5V10h-.5a.499.499 0 0 1-.175-.032l-.179.178a.5.5 0 0 0-.11.168l-2 5a.5.5 0 0 0 .65.65l5-2a.5.5 0 0 0 .168-.11l.178-.178z"/></svg><svg style="position:absolute;left:1344.5px;top:509.5px" width="12.8" height="12.8" viewBox="0 0 16 16" fill="#1e86ea" ><path d="M12.854.146a.5.5 0 0 0-.707 0L10.5 1.793 14.207 5.5l1.647-1.646a.5.5 0 0 0 0-.708l-3-3zm.646 6.061L9.793 2.5 3.293 9H3.5a.5.5 0 0 1 .5.5v.5h.5a.5.5 0 0 1 .5.5v.5h.5a.5.5 0 0 1 .5.5v.5h.5a.5.5 0 0 1 .5.5v.207l6.5-6.5zm-7.468 7.468A.5.5 0 0 1 6 13.5V13h-.5a.5.5 0 0 1-.5-.5V12h-.5a.5.5 0 0 1-.5-.5V11h-.5a.5.5 0 0 1-.5-.5V10h-.5a.499.499 0 0 1-.175-.032l-.179.178a.5.5 0 0 0-.11.168l-2 5a.5.5 0 0 0 .65.65l5-2a.5.5 0 0 0 .168-.11l.178-.178z"/></svg><svg style="position:absolute;left:1376px;top:514.9px;overflow:visible" width="10.1" height="2.3" viewBox="0 0 10.1 2.3"><rect x="0" y="0" width="2.200" height="2.300" rx=".9" fill="#1e86ea"/><rect x="3.950" y="0" width="2.200" height="2.300" rx=".9" fill="#1e86ea"/><rect x="7.900" y="0" width="2.200" height="2.300" rx=".9" fill="#1e86ea"/></svg>
<div class="abs" style="left:152px;top:554px;width:1249px;height:1px;background:#dcdcdc"></div><div class="cb" style="left:176px;top:536px"></div><svg style="position:absolute;left:222px;top:537px;overflow:visible" width="6" height="10" viewBox="0 0 6 10"><path d="M.5 .5l4.800 4.500L.5 9.500" fill="none" stroke="#333" stroke-width="1.100" stroke-linecap="round" stroke-linejoin="round"/></svg><svg style="position:absolute;left:244.2px;top:536.2px" width="12" height="12" viewBox="0 0 12 12"><rect x=".5" y=".5" width="11" height="2.300" fill="#fff" stroke="#c4c4c4" stroke-width=".8"/><rect x="1" y="3.300" width="10" height="8.200" fill="#c9c9c9"/><circle cx="4.300" cy="7.500" r="1.200" fill="none" stroke="#fff" stroke-width=".8"/><path d="M5.500 7.500h3.200" stroke="#fff" stroke-width=".8"/></svg><div class="t" style="left:263px;top:537px;font-size:10px;color:#0e0e0e;letter-spacing:-0.21px;">Perfect Cue Package</div><div class="r" style="right:930.35px;top:537px;font-size:10px;color:#0e0e0e;letter-spacing:-.13px">2</div><div class="r" style="right:875.65px;top:537px;font-size:10px;color:#0e0e0e;letter-spacing:-.13px">32</div><div class="r" style="right:830.65px;top:537px;font-size:10px;color:#0e0e0e;letter-spacing:-.13px">6</div><div class="r" style="right:774.05px;top:537px;font-size:10px;color:#0e0e0e;letter-spacing:-.13px">2</div><div class="r" style="right:715.65px;top:537px;font-size:10px;color:#0e0e0e;letter-spacing:-.13px">0</div><div class="r" style="right:670.65px;top:537px;font-size:10px;color:#0e0e0e;letter-spacing:-.13px">2</div><div class="r" style="right:613.65px;top:537px;font-size:10px;color:#0e0e0e;letter-spacing:-.13px">$150.00</div><div class="r" style="right:553.05px;top:537px;font-size:10px;color:#0e0e0e;letter-spacing:-.13px">3.00</div><div class="r" style="right:495.95px;top:537px;font-size:10px;color:#0e0e0e;letter-spacing:-.13px">$900.00</div><div class="r" style="right:464.75px;top:537px;font-size:10px;color:#0e0e0e;letter-spacing:-.13px">0%</div><div class="r" style="right:409.05px;top:537px;font-size:10px;color:#0e0e0e;letter-spacing:-.13px">$900.00</div><div class="tg" style="left:1156.8px;top:535.8px"><i></i></div><div class="tg" style="left:1192.9px;top:535.8px"><i></i></div><div class="tg" style="left:1228.9px;top:535.8px"><i></i></div><div class="tg on" style="left:1264.9px;top:535.8px"><i></i></div><svg style="position:absolute;left:1308.5px;top:534.5px" width="12.8" height="12.8" viewBox="0 0 16 16" fill="#1e86ea" ><path d="M12.854.146a.5.5 0 0 0-.707 0L10.5 1.793 14.207 5.5l1.647-1.646a.5.5 0 0 0 0-.708l-3-3zm.646 6.061L9.793 2.5 3.293 9H3.5a.5.5 0 0 1 .5.5v.5h.5a.5.5 0 0 1 .5.5v.5h.5a.5.5 0 0 1 .5.5v.5h.5a.5.5 0 0 1 .5.5v.207l6.5-6.5zm-7.468 7.468A.5.5 0 0 1 6 13.5V13h-.5a.5.5 0 0 1-.5-.5V12h-.5a.5.5 0 0 1-.5-.5V11h-.5a.5.5 0 0 1-.5-.5V10h-.5a.499.499 0 0 1-.175-.032l-.179.178a.5.5 0 0 0-.11.168l-2 5a.5.5 0 0 0 .65.65l5-2a.5.5 0 0 0 .168-.11l.178-.178z"/></svg><svg style="position:absolute;left:1344.5px;top:534.5px" width="12.8" height="12.8" viewBox="0 0 16 16" fill="#1e86ea" ><path d="M12.854.146a.5.5 0 0 0-.707 0L10.5 1.793 14.207 5.5l1.647-1.646a.5.5 0 0 0 0-.708l-3-3zm.646 6.061L9.793 2.5 3.293 9H3.5a.5.5 0 0 1 .5.5v.5h.5a.5.5 0 0 1 .5.5v.5h.5a.5.5 0 0 1 .5.5v.5h.5a.5.5 0 0 1 .5.5v.207l6.5-6.5zm-7.468 7.468A.5.5 0 0 1 6 13.5V13h-.5a.5.5 0 0 1-.5-.5V12h-.5a.5.5 0 0 1-.5-.5V11h-.5a.5.5 0 0 1-.5-.5V10h-.5a.499.499 0 0 1-.175-.032l-.179.178a.5.5 0 0 0-.11.168l-2 5a.5.5 0 0 0 .65.65l5-2a.5.5 0 0 0 .168-.11l.178-.178z"/></svg><svg style="position:absolute;left:1376px;top:539.9px;overflow:visible" width="10.1" height="2.3" viewBox="0 0 10.1 2.3"><rect x="0" y="0" width="2.200" height="2.300" rx=".9" fill="#1e86ea"/><rect x="3.950" y="0" width="2.200" height="2.300" rx=".9" fill="#1e86ea"/><rect x="7.900" y="0" width="2.200" height="2.300" rx=".9" fill="#1e86ea"/></svg>
<div class="abs" style="left:152px;top:579px;width:1249px;height:1px;background:#dcdcdc"></div><div class="cb" style="left:176px;top:561px"></div><svg style="position:absolute;left:222px;top:562px;overflow:visible" width="6" height="10" viewBox="0 0 6 10"><path d="M.5 .5l4.800 4.500L.5 9.500" fill="none" stroke="#333" stroke-width="1.100" stroke-linecap="round" stroke-linejoin="round"/></svg><svg style="position:absolute;left:244.2px;top:561.2px" width="12" height="12" viewBox="0 0 12 12"><rect x=".5" y=".5" width="11" height="2.300" fill="#fff" stroke="#c4c4c4" stroke-width=".8"/><rect x="1" y="3.300" width="10" height="8.200" fill="#c9c9c9"/><circle cx="4.300" cy="7.500" r="1.200" fill="none" stroke="#fff" stroke-width=".8"/><path d="M5.500 7.500h3.200" stroke="#fff" stroke-width=".8"/></svg><div class="t" style="left:263px;top:562px;font-size:10px;color:#0e0e0e;letter-spacing:-0.22px;">Speaker Timer Package</div><div class="r" style="right:930.35px;top:562px;font-size:10px;color:#0e0e0e;letter-spacing:-.13px">2</div><div class="r" style="right:875.65px;top:562px;font-size:10px;color:#0e0e0e;letter-spacing:-.13px">34</div><div class="r" style="right:830.65px;top:562px;font-size:10px;color:#0e0e0e;letter-spacing:-.13px">7</div><div class="r" style="right:774.05px;top:562px;font-size:10px;color:#0e0e0e;letter-spacing:-.13px">2</div><div class="r" style="right:715.65px;top:562px;font-size:10px;color:#0e0e0e;letter-spacing:-.13px">0</div><div class="r" style="right:670.65px;top:562px;font-size:10px;color:#0e0e0e;letter-spacing:-.13px">2</div><div class="r" style="right:613.65px;top:562px;font-size:10px;color:#0e0e0e;letter-spacing:-.13px">$125.00</div><div class="r" style="right:553.05px;top:562px;font-size:10px;color:#0e0e0e;letter-spacing:-.13px">3.00</div><div class="r" style="right:495.95px;top:562px;font-size:10px;color:#0e0e0e;letter-spacing:-.13px">$750.00</div><div class="r" style="right:464.75px;top:562px;font-size:10px;color:#0e0e0e;letter-spacing:-.13px">0%</div><div class="r" style="right:409.05px;top:562px;font-size:10px;color:#0e0e0e;letter-spacing:-.13px">$750.00</div><div class="tg" style="left:1156.8px;top:560.8px"><i></i></div><div class="tg" style="left:1192.9px;top:560.8px"><i></i></div><div class="tg" style="left:1228.9px;top:560.8px"><i></i></div><div class="tg on" style="left:1264.9px;top:560.8px"><i></i></div><svg style="position:absolute;left:1308.5px;top:559.5px" width="12.8" height="12.8" viewBox="0 0 16 16" fill="#1e86ea" ><path d="M12.854.146a.5.5 0 0 0-.707 0L10.5 1.793 14.207 5.5l1.647-1.646a.5.5 0 0 0 0-.708l-3-3zm.646 6.061L9.793 2.5 3.293 9H3.5a.5.5 0 0 1 .5.5v.5h.5a.5.5 0 0 1 .5.5v.5h.5a.5.5 0 0 1 .5.5v.5h.5a.5.5 0 0 1 .5.5v.207l6.5-6.5zm-7.468 7.468A.5.5 0 0 1 6 13.5V13h-.5a.5.5 0 0 1-.5-.5V12h-.5a.5.5 0 0 1-.5-.5V11h-.5a.5.5 0 0 1-.5-.5V10h-.5a.499.499 0 0 1-.175-.032l-.179.178a.5.5 0 0 0-.11.168l-2 5a.5.5 0 0 0 .65.65l5-2a.5.5 0 0 0 .168-.11l.178-.178z"/></svg><svg style="position:absolute;left:1344.5px;top:559.5px" width="12.8" height="12.8" viewBox="0 0 16 16" fill="#1e86ea" ><path d="M12.854.146a.5.5 0 0 0-.707 0L10.5 1.793 14.207 5.5l1.647-1.646a.5.5 0 0 0 0-.708l-3-3zm.646 6.061L9.793 2.5 3.293 9H3.5a.5.5 0 0 1 .5.5v.5h.5a.5.5 0 0 1 .5.5v.5h.5a.5.5 0 0 1 .5.5v.5h.5a.5.5 0 0 1 .5.5v.207l6.5-6.5zm-7.468 7.468A.5.5 0 0 1 6 13.5V13h-.5a.5.5 0 0 1-.5-.5V12h-.5a.5.5 0 0 1-.5-.5V11h-.5a.5.5 0 0 1-.5-.5V10h-.5a.499.499 0 0 1-.175-.032l-.179.178a.5.5 0 0 0-.11.168l-2 5a.5.5 0 0 0 .65.65l5-2a.5.5 0 0 0 .168-.11l.178-.178z"/></svg><svg style="position:absolute;left:1376px;top:564.9px;overflow:visible" width="10.1" height="2.3" viewBox="0 0 10.1 2.3"><rect x="0" y="0" width="2.200" height="2.300" rx=".9" fill="#1e86ea"/><rect x="3.950" y="0" width="2.200" height="2.300" rx=".9" fill="#1e86ea"/><rect x="7.900" y="0" width="2.200" height="2.300" rx=".9" fill="#1e86ea"/></svg>
<div class="abs" style="left:152px;top:604px;width:1249px;height:1px;background:#dcdcdc"></div><div class="cb" style="left:176px;top:586px"></div><svg style="position:absolute;left:222px;top:587px;overflow:visible" width="6" height="10" viewBox="0 0 6 10"><path d="M.5 .5l4.800 4.500L.5 9.500" fill="none" stroke="#333" stroke-width="1.100" stroke-linecap="round" stroke-linejoin="round"/></svg><svg style="position:absolute;left:244.2px;top:586.2px;overflow:visible" width="12" height="12" viewBox="0 0 12 12"><rect x=".5" y="2.300" width="10.800" height="9.200" rx="1" fill="#fff" stroke="#c2c2c2" stroke-width=".9"/><circle cx="4.600" cy="1.250" r="1.100" fill="none" stroke="#b2b2b2" stroke-width=".8"/><circle cx="7.200" cy="1.250" r="1.100" fill="none" stroke="#b2b2b2" stroke-width=".8"/><path d="M5.300 2.300v1.800M6.500 2.300v1.800" stroke="#c8c8c8" stroke-width=".6" fill="none"/></svg><div class="t" style="left:263px;top:587px;font-size:10px;color:#0e0e0e;letter-spacing:-0.27px;">2020 Streaming Rack Package</div><div class="r" style="right:930.35px;top:587px;font-size:10px;color:#0e0e0e;letter-spacing:-.13px">1</div><div class="r" style="right:670.65px;top:587px;font-size:10px;color:#0e0e0e;letter-spacing:-.13px">1</div><div class="r" style="right:613.65px;top:587px;font-size:10px;color:#0e0e0e;letter-spacing:-.13px">$4,905.00</div><div class="r" style="right:553.05px;top:587px;font-size:10px;color:#0e0e0e;letter-spacing:-.13px">3.00</div><div class="r" style="right:495.95px;top:587px;font-size:10px;color:#0e0e0e;letter-spacing:-.13px">$14,715.00</div><div class="r" style="right:464.75px;top:587px;font-size:10px;color:#0e0e0e;letter-spacing:-.13px">0%</div><div class="r" style="right:409.05px;top:587px;font-size:10px;color:#0e0e0e;letter-spacing:-.13px">$14,715.00</div><svg style="position:absolute;left:835px;top:587px;overflow:visible" width="9.5" height="8.5" viewBox="0 0 9.5 8.5"><text x="-.2" y="7.600" font-size="8.600" fill="#707070" stroke="#707070" stroke-width=".25" font-family="Liberation Sans">$</text><path d="M7.300 8.300V2.500" stroke="#707070" stroke-width="1.350"/><path d="M4.900 3.600L7.300 .2l2.400 3.400z" fill="#707070"/></svg><div class="tg" style="left:1156.8px;top:585.8px"><i></i></div><div class="tg" style="left:1192.9px;top:585.8px"><i></i></div><div class="tg" style="left:1228.9px;top:585.8px"><i></i></div><div class="tg on" style="left:1264.9px;top:585.8px"><i></i></div><svg style="position:absolute;left:1308.5px;top:584.5px" width="12.8" height="12.8" viewBox="0 0 16 16" fill="#1e86ea" ><path d="M12.854.146a.5.5 0 0 0-.707 0L10.5 1.793 14.207 5.5l1.647-1.646a.5.5 0 0 0 0-.708l-3-3zm.646 6.061L9.793 2.5 3.293 9H3.5a.5.5 0 0 1 .5.5v.5h.5a.5.5 0 0 1 .5.5v.5h.5a.5.5 0 0 1 .5.5v.5h.5a.5.5 0 0 1 .5.5v.207l6.5-6.5zm-7.468 7.468A.5.5 0 0 1 6 13.5V13h-.5a.5.5 0 0 1-.5-.5V12h-.5a.5.5 0 0 1-.5-.5V11h-.5a.5.5 0 0 1-.5-.5V10h-.5a.499.499 0 0 1-.175-.032l-.179.178a.5.5 0 0 0-.11.168l-2 5a.5.5 0 0 0 .65.65l5-2a.5.5 0 0 0 .168-.11l.178-.178z"/></svg><svg style="position:absolute;left:1344.5px;top:584.5px" width="12.8" height="12.8" viewBox="0 0 16 16" fill="#1e86ea" ><path d="M12.854.146a.5.5 0 0 0-.707 0L10.5 1.793 14.207 5.5l1.647-1.646a.5.5 0 0 0 0-.708l-3-3zm.646 6.061L9.793 2.5 3.293 9H3.5a.5.5 0 0 1 .5.5v.5h.5a.5.5 0 0 1 .5.5v.5h.5a.5.5 0 0 1 .5.5v.5h.5a.5.5 0 0 1 .5.5v.207l6.5-6.5zm-7.468 7.468A.5.5 0 0 1 6 13.5V13h-.5a.5.5 0 0 1-.5-.5V12h-.5a.5.5 0 0 1-.5-.5V11h-.5a.5.5 0 0 1-.5-.5V10h-.5a.499.499 0 0 1-.175-.032l-.179.178a.5.5 0 0 0-.11.168l-2 5a.5.5 0 0 0 .65.65l5-2a.5.5 0 0 0 .168-.11l.178-.178z"/></svg><svg style="position:absolute;left:1376px;top:589.9px;overflow:visible" width="10.1" height="2.3" viewBox="0 0 10.1 2.3"><rect x="0" y="0" width="2.200" height="2.300" rx=".9" fill="#1e86ea"/><rect x="3.950" y="0" width="2.200" height="2.300" rx=".9" fill="#1e86ea"/><rect x="7.900" y="0" width="2.200" height="2.300" rx=".9" fill="#1e86ea"/></svg>
<div class="abs" style="left:152px;top:629px;width:1249px;height:1px;background:#dcdcdc"></div><div class="cb" style="left:176px;top:611px"></div><svg style="position:absolute;left:222px;top:612px;overflow:visible" width="6" height="10" viewBox="0 0 6 10"><path d="M.5 .5l4.800 4.500L.5 9.500" fill="none" stroke="#333" stroke-width="1.100" stroke-linecap="round" stroke-linejoin="round"/></svg><svg style="position:absolute;left:244.2px;top:611.2px;overflow:visible" width="12" height="12" viewBox="0 0 12 12"><rect x=".5" y="2.300" width="10.800" height="9.200" rx="1" fill="#fff" stroke="#c2c2c2" stroke-width=".9"/><circle cx="4.600" cy="1.250" r="1.100" fill="none" stroke="#b2b2b2" stroke-width=".8"/><circle cx="7.200" cy="1.250" r="1.100" fill="none" stroke="#b2b2b2" stroke-width=".8"/><path d="M5.300 2.300v1.800M6.500 2.300v1.800" stroke="#c8c8c8" stroke-width=".6" fill="none"/></svg><div class="t" style="left:263px;top:612px;font-size:10px;color:#0e0e0e;letter-spacing:-0.02px;">46" HD Monitor w/ Floor Stand Package</div><div class="r" style="right:930.35px;top:612px;font-size:10px;color:#0e0e0e;letter-spacing:-.13px">2</div><div class="r" style="right:670.65px;top:612px;font-size:10px;color:#0e0e0e;letter-spacing:-.13px">2</div><div class="r" style="right:613.65px;top:612px;font-size:10px;color:#0e0e0e;letter-spacing:-.13px">$810.00</div><div class="r" style="right:553.05px;top:612px;font-size:10px;color:#0e0e0e;letter-spacing:-.13px">3.00</div><div class="r" style="right:495.95px;top:612px;font-size:10px;color:#0e0e0e;letter-spacing:-.13px">$4,860.00</div><div class="r" style="right:464.75px;top:612px;font-size:10px;color:#0e0e0e;letter-spacing:-.13px">0%</div><div class="r" style="right:409.05px;top:612px;font-size:10px;color:#0e0e0e;letter-spacing:-.13px">$4,860.00</div><svg style="position:absolute;left:835px;top:612px;overflow:visible" width="9.5" height="8.5" viewBox="0 0 9.5 8.5"><text x="-.2" y="7.600" font-size="8.600" fill="#707070" stroke="#707070" stroke-width=".25" font-family="Liberation Sans">$</text><path d="M7.300 8.300V2.500" stroke="#707070" stroke-width="1.350"/><path d="M4.900 3.600L7.300 .2l2.400 3.400z" fill="#707070"/></svg><div class="tg" style="left:1156.8px;top:610.8px"><i></i></div><div class="tg" style="left:1192.9px;top:610.8px"><i></i></div><div class="tg" style="left:1228.9px;top:610.8px"><i></i></div><div class="tg on" style="left:1264.9px;top:610.8px"><i></i></div><svg style="position:absolute;left:1308.5px;top:609.5px" width="12.8" height="12.8" viewBox="0 0 16 16" fill="#1e86ea" ><path d="M12.854.146a.5.5 0 0 0-.707 0L10.5 1.793 14.207 5.5l1.647-1.646a.5.5 0 0 0 0-.708l-3-3zm.646 6.061L9.793 2.5 3.293 9H3.5a.5.5 0 0 1 .5.5v.5h.5a.5.5 0 0 1 .5.5v.5h.5a.5.5 0 0 1 .5.5v.5h.5a.5.5 0 0 1 .5.5v.207l6.5-6.5zm-7.468 7.468A.5.5 0 0 1 6 13.5V13h-.5a.5.5 0 0 1-.5-.5V12h-.5a.5.5 0 0 1-.5-.5V11h-.5a.5.5 0 0 1-.5-.5V10h-.5a.499.499 0 0 1-.175-.032l-.179.178a.5.5 0 0 0-.11.168l-2 5a.5.5 0 0 0 .65.65l5-2a.5.5 0 0 0 .168-.11l.178-.178z"/></svg><svg style="position:absolute;left:1344.5px;top:609.5px" width="12.8" height="12.8" viewBox="0 0 16 16" fill="#1e86ea" ><path d="M12.854.146a.5.5 0 0 0-.707 0L10.5 1.793 14.207 5.5l1.647-1.646a.5.5 0 0 0 0-.708l-3-3zm.646 6.061L9.793 2.5 3.293 9H3.5a.5.5 0 0 1 .5.5v.5h.5a.5.5 0 0 1 .5.5v.5h.5a.5.5 0 0 1 .5.5v.5h.5a.5.5 0 0 1 .5.5v.207l6.5-6.5zm-7.468 7.468A.5.5 0 0 1 6 13.5V13h-.5a.5.5 0 0 1-.5-.5V12h-.5a.5.5 0 0 1-.5-.5V11h-.5a.5.5 0 0 1-.5-.5V10h-.5a.499.499 0 0 1-.175-.032l-.179.178a.5.5 0 0 0-.11.168l-2 5a.5.5 0 0 0 .65.65l5-2a.5.5 0 0 0 .168-.11l.178-.178z"/></svg><svg style="position:absolute;left:1376px;top:614.9px;overflow:visible" width="10.1" height="2.3" viewBox="0 0 10.1 2.3"><rect x="0" y="0" width="2.200" height="2.300" rx=".9" fill="#1e86ea"/><rect x="3.950" y="0" width="2.200" height="2.300" rx=".9" fill="#1e86ea"/><rect x="7.900" y="0" width="2.200" height="2.300" rx=".9" fill="#1e86ea"/></svg>
</div>
</div></body></html>
